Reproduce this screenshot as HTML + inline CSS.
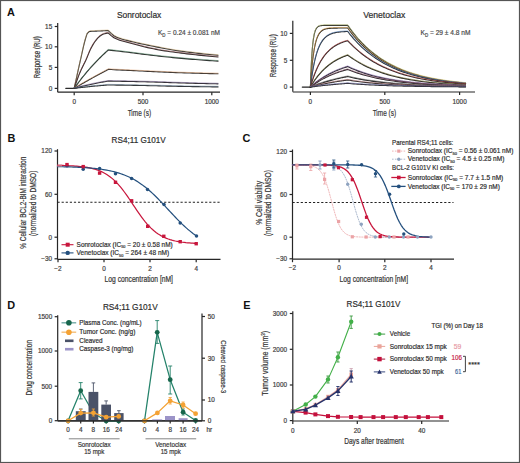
<!DOCTYPE html>
<html><head><meta charset="utf-8"><style>
html,body{margin:0;padding:0;background:#fff;width:520px;height:463px;overflow:hidden}
svg{display:block;font-family:"Liberation Sans", sans-serif}
</style></head><body>
<svg width="520" height="463" viewBox="0 0 520 463">
<rect width="520" height="463" fill="#fff"/>
<rect x="0.5" y="0.5" width="519" height="462" fill="none" stroke="#555" stroke-width="1.2"/>
<text x="7" y="16.2" font-size="10.9" fill="#111" font-weight="bold" >A</text>
<text x="7.6" y="142.3" font-size="10.9" fill="#111" font-weight="bold" >B</text>
<text x="242.4" y="141.9" font-size="10.9" fill="#111" font-weight="bold" >C</text>
<text x="7.2" y="309.3" font-size="10.9" fill="#111" font-weight="bold" >D</text>
<text x="243.2" y="309.2" font-size="10.9" fill="#111" font-weight="bold" >E</text>
<text x="116.9" y="17.5" font-size="9" fill="#2e2e2e" stroke="#2e2e2e" stroke-width="0.2" textLength="44.4" lengthAdjust="spacingAndGlyphs" >Sonrotoclax</text>
<text x="158" y="34.7" font-size="7.4" fill="#4a4a4a" stroke="#4a4a4a" stroke-width="0.2" textLength="62" lengthAdjust="spacingAndGlyphs" >K<tspan font-size="5" dy="2">D</tspan><tspan dy="-2"> = 0.24 ± 0.081 nM</tspan></text>
<line x1="57.7" y1="23" x2="57.7" y2="92.1" stroke="#262626" stroke-width="1.2" />
<line x1="54.7" y1="26.5" x2="57.7" y2="26.5" stroke="#262626" stroke-width="1.2" />
<text x="52.2" y="28.8" font-size="6.4" fill="#424242" stroke="#424242" stroke-width="0.2" text-anchor="end" >15</text>
<line x1="54.7" y1="46.8" x2="57.7" y2="46.8" stroke="#262626" stroke-width="1.2" />
<text x="52.2" y="49.1" font-size="6.4" fill="#424242" stroke="#424242" stroke-width="0.2" text-anchor="end" >10</text>
<line x1="54.7" y1="67.4" x2="57.7" y2="67.4" stroke="#262626" stroke-width="1.2" />
<text x="52.2" y="69.7" font-size="6.4" fill="#424242" stroke="#424242" stroke-width="0.2" text-anchor="end" >5</text>
<line x1="54.7" y1="88.4" x2="57.7" y2="88.4" stroke="#262626" stroke-width="1.2" />
<text x="52.2" y="90.7" font-size="6.4" fill="#424242" stroke="#424242" stroke-width="0.2" text-anchor="end" >0</text>
<line x1="57.5" y1="92.2" x2="220" y2="92.2" stroke="#262626" stroke-width="1.2" />
<line x1="74.2" y1="92.2" x2="74.2" y2="95.2" stroke="#262626" stroke-width="1.2" />
<text x="74.2" y="103.8" font-size="6.4" fill="#424242" stroke="#424242" stroke-width="0.2" text-anchor="middle" >0</text>
<line x1="143" y1="92.2" x2="143" y2="95.2" stroke="#262626" stroke-width="1.2" />
<text x="143" y="103.8" font-size="6.4" fill="#424242" stroke="#424242" stroke-width="0.2" text-anchor="middle" >500</text>
<line x1="211.8" y1="92.2" x2="211.8" y2="95.2" stroke="#262626" stroke-width="1.2" />
<text x="211.8" y="103.8" font-size="6.4" fill="#424242" stroke="#424242" stroke-width="0.2" text-anchor="middle" >1000</text>
<text x="39.6" y="57.2" font-size="9" fill="#353535" stroke="#353535" stroke-width="0.2" text-anchor="middle" textLength="42" lengthAdjust="spacingAndGlyphs" transform="rotate(-90 39.6 57.2)" >Response (RU)</text>
<text x="139.4" y="115.9" font-size="9.4" fill="#353535" stroke="#353535" stroke-width="0.2" text-anchor="middle" textLength="23.5" lengthAdjust="spacingAndGlyphs" >Time (s)</text>
<path d="M65.8 88.4 L74.2 88.4" fill="none" stroke="#2b2b2b" stroke-width="1.15" stroke-linejoin="round" stroke-linecap="round" />
<path d="M74.2 88.4 L75.38 82.92 L76.55 77.51 L77.73 72.19 L78.9 66.93 L80.08 61.73 L81.26 56.5 L82.43 51.11 L83.61 45.92 L84.78 41.25 L85.96 37.06 L87.13 33.62 L88.31 32.29 L89.49 31.57 L90.66 31.38 L91.84 31.29 L93.01 31.23 L94.19 31.18 L95.37 31.13 L96.54 31.08 L97.72 31.03 L98.89 30.99 L100.07 30.94 L101.24 30.89 L102.42 30.83 L103.6 30.78 L104.77 30.72 L105.95 30.66 L107.12 30.6 L108.3 30.54 L111.11 33.42 L113.93 35.77 L116.74 37.2 L119.55 38.28 L122.36 39.16 L125.18 39.92 L127.99 40.62 L130.8 41.35 L133.62 42.06 L136.43 42.71 L139.24 43.34 L142.05 43.95 L144.87 44.55 L147.68 45.14 L150.49 45.72 L153.31 46.28 L156.12 46.84 L158.93 47.39 L161.74 47.95 L164.56 48.51 L167.37 49.06 L170.18 49.55 L172.99 50.01 L175.81 50.44 L178.62 50.85 L181.43 51.25 L184.25 51.62 L187.06 51.99 L189.87 52.34 L192.68 52.67 L195.5 53 L198.31 53.33 L201.12 53.64 L203.94 53.94 L206.75 54.23 L209.56 54.51 L212.37 54.78 L215.19 55.04 L218 55.28" fill="none" stroke="#303030" stroke-width="1.1" stroke-linejoin="round" stroke-linecap="round" />
<path d="M74.2 87.8 L75.38 82.32 L76.55 76.91 L77.73 71.59 L78.9 66.33 L80.08 61.13 L81.26 55.9 L82.43 50.51 L83.61 45.32 L84.78 40.65 L85.96 36.46 L87.13 33.02 L88.31 31.69 L89.49 30.97 L90.66 30.78 L91.84 30.69 L93.01 30.63 L94.19 30.58 L95.37 30.53 L96.54 30.48 L97.72 30.43 L98.89 30.39 L100.07 30.34 L101.24 30.29 L102.42 30.23 L103.6 30.18 L104.77 30.12 L105.95 30.06 L107.12 30 L108.3 29.94 L111.11 32.82 L113.93 35.17 L116.74 36.6 L119.55 37.68 L122.36 38.56 L125.18 39.32 L127.99 40.02 L130.8 40.75 L133.62 41.46 L136.43 42.11 L139.24 42.74 L142.05 43.35 L144.87 43.95 L147.68 44.54 L150.49 45.12 L153.31 45.68 L156.12 46.24 L158.93 46.79 L161.74 47.35 L164.56 47.91 L167.37 48.46 L170.18 48.95 L172.99 49.41 L175.81 49.84 L178.62 50.25 L181.43 50.65 L184.25 51.02 L187.06 51.39 L189.87 51.74 L192.68 52.07 L195.5 52.4 L198.31 52.73 L201.12 53.04 L203.94 53.34 L206.75 53.63 L209.56 53.91 L212.37 54.18 L215.19 54.44 L218 54.68" fill="none" stroke="#c9a56b" stroke-width="0.6" stroke-linejoin="round" stroke-linecap="round" opacity="0.75"/>
<path d="M74.2 88.4 L75.38 84.86 L76.55 81.47 L77.73 78.22 L78.9 75.15 L80.08 72.26 L81.26 69.6 L82.43 67.15 L83.61 64.79 L84.78 62.43 L85.96 59.98 L87.13 57.31 L88.31 54.4 L89.49 51.51 L90.66 48.88 L91.84 46.65 L93.01 44.61 L94.19 42.73 L95.37 41.05 L96.54 39.57 L97.72 38.21 L98.89 37.01 L100.07 36.04 L101.24 35.23 L102.42 34.53 L103.6 34 L104.77 33.66 L105.95 33.36 L107.12 33.15 L108.3 33.06 L111.11 35.62 L113.93 37.73 L116.74 39.09 L119.55 40.15 L122.36 41.03 L125.18 41.8 L127.99 42.52 L130.8 43.28 L133.62 44.04 L136.43 44.79 L139.24 45.52 L142.05 46.24 L144.87 46.93 L147.68 47.59 L150.49 48.22 L153.31 48.83 L156.12 49.4 L158.93 49.94 L161.74 50.43 L164.56 50.87 L167.37 51.28 L170.18 51.67 L172.99 52.05 L175.81 52.43 L178.62 52.8 L181.43 53.15 L184.25 53.5 L187.06 53.83 L189.87 54.15 L192.68 54.47 L195.5 54.78 L198.31 55.08 L201.12 55.38 L203.94 55.67 L206.75 55.95 L209.56 56.23 L212.37 56.49 L215.19 56.75 L218 57" fill="none" stroke="#303030" stroke-width="1.1" stroke-linejoin="round" stroke-linecap="round" />
<path d="M74.2 87.8 L75.38 84.26 L76.55 80.87 L77.73 77.62 L78.9 74.55 L80.08 71.66 L81.26 69 L82.43 66.55 L83.61 64.19 L84.78 61.83 L85.96 59.38 L87.13 56.71 L88.31 53.8 L89.49 50.91 L90.66 48.28 L91.84 46.05 L93.01 44.01 L94.19 42.13 L95.37 40.45 L96.54 38.97 L97.72 37.61 L98.89 36.41 L100.07 35.44 L101.24 34.63 L102.42 33.93 L103.6 33.4 L104.77 33.06 L105.95 32.76 L107.12 32.55 L108.3 32.46 L111.11 35.02 L113.93 37.13 L116.74 38.49 L119.55 39.55 L122.36 40.43 L125.18 41.2 L127.99 41.92 L130.8 42.68 L133.62 43.44 L136.43 44.19 L139.24 44.92 L142.05 45.64 L144.87 46.33 L147.68 46.99 L150.49 47.62 L153.31 48.23 L156.12 48.8 L158.93 49.34 L161.74 49.83 L164.56 50.27 L167.37 50.68 L170.18 51.07 L172.99 51.45 L175.81 51.83 L178.62 52.2 L181.43 52.55 L184.25 52.9 L187.06 53.23 L189.87 53.55 L192.68 53.87 L195.5 54.18 L198.31 54.48 L201.12 54.78 L203.94 55.07 L206.75 55.35 L209.56 55.63 L212.37 55.89 L215.19 56.15 L218 56.4" fill="none" stroke="#8a3c3c" stroke-width="0.6" stroke-linejoin="round" stroke-linecap="round" opacity="0.75"/>
<path d="M74.2 88.4 L75.38 86.77 L76.55 85.15 L77.73 83.56 L78.9 82 L80.08 80.46 L81.26 78.95 L82.43 77.46 L83.61 75.99 L84.78 74.54 L85.96 73.12 L87.13 71.72 L88.31 70.34 L89.49 68.99 L90.66 67.66 L91.84 66.35 L93.01 65.07 L94.19 63.8 L95.37 62.55 L96.54 61.32 L97.72 60.11 L98.89 58.92 L100.07 57.75 L101.24 56.59 L102.42 55.45 L103.6 54.33 L104.77 53.23 L105.95 52.14 L107.12 51.08 L108.3 50.03 L111.11 50.34 L113.93 50.66 L116.74 50.98 L119.55 51.31 L122.36 51.64 L125.18 51.97 L127.99 52.31 L130.8 52.65 L133.62 53 L136.43 53.36 L139.24 53.72 L142.05 54.09 L144.87 54.45 L147.68 54.8 L150.49 55.14 L153.31 55.47 L156.12 55.79 L158.93 56.11 L161.74 56.43 L164.56 56.74 L167.37 57.03 L170.18 57.32 L172.99 57.59 L175.81 57.86 L178.62 58.12 L181.43 58.38 L184.25 58.63 L187.06 58.87 L189.87 59.11 L192.68 59.34 L195.5 59.56 L198.31 59.78 L201.12 59.99 L203.94 60.19 L206.75 60.39 L209.56 60.59 L212.37 60.78 L215.19 60.96 L218 61.14" fill="none" stroke="#303030" stroke-width="1.1" stroke-linejoin="round" stroke-linecap="round" />
<path d="M74.2 87.8 L75.38 86.17 L76.55 84.55 L77.73 82.96 L78.9 81.4 L80.08 79.86 L81.26 78.35 L82.43 76.86 L83.61 75.39 L84.78 73.94 L85.96 72.52 L87.13 71.12 L88.31 69.74 L89.49 68.39 L90.66 67.06 L91.84 65.75 L93.01 64.47 L94.19 63.2 L95.37 61.95 L96.54 60.72 L97.72 59.51 L98.89 58.32 L100.07 57.15 L101.24 55.99 L102.42 54.85 L103.6 53.73 L104.77 52.63 L105.95 51.54 L107.12 50.48 L108.3 49.43 L111.11 49.74 L113.93 50.06 L116.74 50.38 L119.55 50.71 L122.36 51.04 L125.18 51.37 L127.99 51.71 L130.8 52.05 L133.62 52.4 L136.43 52.76 L139.24 53.12 L142.05 53.49 L144.87 53.85 L147.68 54.2 L150.49 54.54 L153.31 54.87 L156.12 55.19 L158.93 55.51 L161.74 55.83 L164.56 56.14 L167.37 56.43 L170.18 56.72 L172.99 56.99 L175.81 57.26 L178.62 57.52 L181.43 57.78 L184.25 58.03 L187.06 58.27 L189.87 58.51 L192.68 58.74 L195.5 58.96 L198.31 59.18 L201.12 59.39 L203.94 59.59 L206.75 59.79 L209.56 59.99 L212.37 60.18 L215.19 60.36 L218 60.54" fill="none" stroke="#3d7a55" stroke-width="0.6" stroke-linejoin="round" stroke-linecap="round" opacity="0.75"/>
<path d="M74.2 88.4 L75.38 87.71 L76.55 87.01 L77.73 86.33 L78.9 85.64 L80.08 84.96 L81.26 84.28 L82.43 83.6 L83.61 82.93 L84.78 82.25 L85.96 81.59 L87.13 80.92 L88.31 80.26 L89.49 79.6 L90.66 78.94 L91.84 78.29 L93.01 77.64 L94.19 76.99 L95.37 76.34 L96.54 75.7 L97.72 75.06 L98.89 74.42 L100.07 73.79 L101.24 73.15 L102.42 72.52 L103.6 71.9 L104.77 71.27 L105.95 70.65 L107.12 70.03 L108.3 69.42 L111.11 69.56 L113.93 69.7 L116.74 69.84 L119.55 69.98 L122.36 70.12 L125.18 70.26 L127.99 70.4 L130.8 70.53 L133.62 70.67 L136.43 70.8 L139.24 70.94 L142.05 71.07 L144.87 71.2 L147.68 71.33 L150.49 71.46 L153.31 71.59 L156.12 71.72 L158.93 71.85 L161.74 71.99 L164.56 72.12 L167.37 72.25 L170.18 72.37 L172.99 72.49 L175.81 72.6 L178.62 72.7 L181.43 72.8 L184.25 72.89 L187.06 72.98 L189.87 73.07 L192.68 73.15 L195.5 73.23 L198.31 73.31 L201.12 73.39 L203.94 73.46 L206.75 73.53 L209.56 73.59 L212.37 73.65 L215.19 73.71 L218 73.76" fill="none" stroke="#303030" stroke-width="1.1" stroke-linejoin="round" stroke-linecap="round" />
<path d="M74.2 87.8 L75.38 87.11 L76.55 86.41 L77.73 85.73 L78.9 85.04 L80.08 84.36 L81.26 83.68 L82.43 83 L83.61 82.33 L84.78 81.65 L85.96 80.99 L87.13 80.32 L88.31 79.66 L89.49 79 L90.66 78.34 L91.84 77.69 L93.01 77.04 L94.19 76.39 L95.37 75.74 L96.54 75.1 L97.72 74.46 L98.89 73.82 L100.07 73.19 L101.24 72.55 L102.42 71.92 L103.6 71.3 L104.77 70.67 L105.95 70.05 L107.12 69.43 L108.3 68.82 L111.11 68.96 L113.93 69.1 L116.74 69.24 L119.55 69.38 L122.36 69.52 L125.18 69.66 L127.99 69.8 L130.8 69.93 L133.62 70.07 L136.43 70.2 L139.24 70.34 L142.05 70.47 L144.87 70.6 L147.68 70.73 L150.49 70.86 L153.31 70.99 L156.12 71.12 L158.93 71.25 L161.74 71.39 L164.56 71.52 L167.37 71.65 L170.18 71.77 L172.99 71.89 L175.81 72 L178.62 72.1 L181.43 72.2 L184.25 72.29 L187.06 72.38 L189.87 72.47 L192.68 72.55 L195.5 72.63 L198.31 72.71 L201.12 72.79 L203.94 72.86 L206.75 72.93 L209.56 72.99 L212.37 73.05 L215.19 73.11 L218 73.16" fill="none" stroke="#d9925a" stroke-width="0.6" stroke-linejoin="round" stroke-linecap="round" opacity="0.75"/>
<path d="M74.2 88.4 L75.38 88.09 L76.55 87.78 L77.73 87.47 L78.9 87.17 L80.08 86.87 L81.26 86.58 L82.43 86.29 L83.61 86.01 L84.78 85.73 L85.96 85.46 L87.13 85.19 L88.31 84.93 L89.49 84.67 L90.66 84.42 L91.84 84.18 L93.01 83.93 L94.19 83.69 L95.37 83.46 L96.54 83.22 L97.72 83 L98.89 82.77 L100.07 82.55 L101.24 82.33 L102.42 82.12 L103.6 81.91 L104.77 81.71 L105.95 81.51 L107.12 81.32 L108.3 81.13 L111.11 81.16 L113.93 81.2 L116.74 81.24 L119.55 81.29 L122.36 81.33 L125.18 81.38 L127.99 81.44 L130.8 81.49 L133.62 81.55 L136.43 81.62 L139.24 81.68 L142.05 81.74 L144.87 81.81 L147.68 81.88 L150.49 81.95 L153.31 82.03 L156.12 82.12 L158.93 82.21 L161.74 82.31 L164.56 82.41 L167.37 82.52 L170.18 82.62 L172.99 82.72 L175.81 82.82 L178.62 82.91 L181.43 82.99 L184.25 83.07 L187.06 83.14 L189.87 83.22 L192.68 83.29 L195.5 83.36 L198.31 83.43 L201.12 83.5 L203.94 83.56 L206.75 83.63 L209.56 83.69 L212.37 83.75 L215.19 83.8 L218 83.86" fill="none" stroke="#303030" stroke-width="1.1" stroke-linejoin="round" stroke-linecap="round" />
<path d="M74.2 87.8 L75.38 87.49 L76.55 87.18 L77.73 86.87 L78.9 86.57 L80.08 86.27 L81.26 85.98 L82.43 85.69 L83.61 85.41 L84.78 85.13 L85.96 84.86 L87.13 84.59 L88.31 84.33 L89.49 84.07 L90.66 83.82 L91.84 83.58 L93.01 83.33 L94.19 83.09 L95.37 82.86 L96.54 82.62 L97.72 82.4 L98.89 82.17 L100.07 81.95 L101.24 81.73 L102.42 81.52 L103.6 81.31 L104.77 81.11 L105.95 80.91 L107.12 80.72 L108.3 80.53 L111.11 80.56 L113.93 80.6 L116.74 80.64 L119.55 80.69 L122.36 80.73 L125.18 80.78 L127.99 80.84 L130.8 80.89 L133.62 80.95 L136.43 81.02 L139.24 81.08 L142.05 81.14 L144.87 81.21 L147.68 81.28 L150.49 81.35 L153.31 81.43 L156.12 81.52 L158.93 81.61 L161.74 81.71 L164.56 81.81 L167.37 81.92 L170.18 82.02 L172.99 82.12 L175.81 82.22 L178.62 82.31 L181.43 82.39 L184.25 82.47 L187.06 82.54 L189.87 82.62 L192.68 82.69 L195.5 82.76 L198.31 82.83 L201.12 82.9 L203.94 82.96 L206.75 83.03 L209.56 83.09 L212.37 83.15 L215.19 83.2 L218 83.26" fill="none" stroke="#6b4f8a" stroke-width="0.6" stroke-linejoin="round" stroke-linecap="round" opacity="0.75"/>
<path d="M74.2 88.4 L75.38 88.25 L76.55 88.1 L77.73 87.96 L78.9 87.82 L80.08 87.67 L81.26 87.54 L82.43 87.4 L83.61 87.27 L84.78 87.13 L85.96 87 L87.13 86.88 L88.31 86.75 L89.49 86.63 L90.66 86.52 L91.84 86.4 L93.01 86.29 L94.19 86.17 L95.37 86.06 L96.54 85.95 L97.72 85.84 L98.89 85.74 L100.07 85.63 L101.24 85.53 L102.42 85.43 L103.6 85.33 L104.77 85.24 L105.95 85.15 L107.12 85.05 L108.3 84.97 L111.11 85 L113.93 85.04 L116.74 85.09 L119.55 85.13 L122.36 85.17 L125.18 85.22 L127.99 85.26 L130.8 85.31 L133.62 85.36 L136.43 85.41 L139.24 85.47 L142.05 85.52 L144.87 85.57 L147.68 85.63 L150.49 85.68 L153.31 85.74 L156.12 85.81 L158.93 85.88 L161.74 85.95 L164.56 86.03 L167.37 86.1 L170.18 86.17 L172.99 86.24 L175.81 86.3 L178.62 86.36 L181.43 86.4 L184.25 86.45 L187.06 86.5 L189.87 86.54 L192.68 86.59 L195.5 86.63 L198.31 86.67 L201.12 86.71 L203.94 86.74 L206.75 86.78 L209.56 86.81 L212.37 86.84 L215.19 86.86 L218 86.89" fill="none" stroke="#303030" stroke-width="1.1" stroke-linejoin="round" stroke-linecap="round" />
<path d="M74.2 87.8 L75.38 87.65 L76.55 87.5 L77.73 87.36 L78.9 87.22 L80.08 87.07 L81.26 86.94 L82.43 86.8 L83.61 86.67 L84.78 86.53 L85.96 86.4 L87.13 86.28 L88.31 86.15 L89.49 86.03 L90.66 85.92 L91.84 85.8 L93.01 85.69 L94.19 85.57 L95.37 85.46 L96.54 85.35 L97.72 85.24 L98.89 85.14 L100.07 85.03 L101.24 84.93 L102.42 84.83 L103.6 84.73 L104.77 84.64 L105.95 84.55 L107.12 84.45 L108.3 84.37 L111.11 84.4 L113.93 84.44 L116.74 84.49 L119.55 84.53 L122.36 84.57 L125.18 84.62 L127.99 84.66 L130.8 84.71 L133.62 84.76 L136.43 84.81 L139.24 84.87 L142.05 84.92 L144.87 84.97 L147.68 85.03 L150.49 85.08 L153.31 85.14 L156.12 85.21 L158.93 85.28 L161.74 85.35 L164.56 85.43 L167.37 85.5 L170.18 85.57 L172.99 85.64 L175.81 85.7 L178.62 85.76 L181.43 85.8 L184.25 85.85 L187.06 85.9 L189.87 85.94 L192.68 85.99 L195.5 86.03 L198.31 86.07 L201.12 86.11 L203.94 86.14 L206.75 86.18 L209.56 86.21 L212.37 86.24 L215.19 86.26 L218 86.29" fill="none" stroke="#5a7896" stroke-width="0.6" stroke-linejoin="round" stroke-linecap="round" opacity="0.75"/>
<text x="363.2" y="17.5" font-size="9" fill="#2e2e2e" stroke="#2e2e2e" stroke-width="0.2" textLength="42.2" lengthAdjust="spacingAndGlyphs" >Venetoclax</text>
<text x="420.5" y="34.7" font-size="7.4" fill="#4a4a4a" stroke="#4a4a4a" stroke-width="0.2" textLength="50" lengthAdjust="spacingAndGlyphs" >K<tspan font-size="5" dy="2">D</tspan><tspan dy="-2"> = 29 ± 4.8 nM</tspan></text>
<line x1="292.8" y1="20.7" x2="292.8" y2="91.8" stroke="#262626" stroke-width="1.2" />
<line x1="289.8" y1="33.4" x2="292.8" y2="33.4" stroke="#262626" stroke-width="1.2" />
<text x="287.3" y="35.7" font-size="6.4" fill="#424242" stroke="#424242" stroke-width="0.2" text-anchor="end" >10</text>
<line x1="289.8" y1="60.3" x2="292.8" y2="60.3" stroke="#262626" stroke-width="1.2" />
<text x="287.3" y="62.6" font-size="6.4" fill="#424242" stroke="#424242" stroke-width="0.2" text-anchor="end" >5</text>
<line x1="289.8" y1="87.1" x2="292.8" y2="87.1" stroke="#262626" stroke-width="1.2" />
<text x="287.3" y="89.4" font-size="6.4" fill="#424242" stroke="#424242" stroke-width="0.2" text-anchor="end" >0</text>
<line x1="292.8" y1="92" x2="475" y2="92" stroke="#262626" stroke-width="1.2" />
<line x1="310.4" y1="92" x2="310.4" y2="95" stroke="#262626" stroke-width="1.2" />
<text x="310.4" y="103.8" font-size="6.4" fill="#424242" stroke="#424242" stroke-width="0.2" text-anchor="middle" >0</text>
<line x1="384.8" y1="92" x2="384.8" y2="95" stroke="#262626" stroke-width="1.2" />
<text x="384.8" y="103.8" font-size="6.4" fill="#424242" stroke="#424242" stroke-width="0.2" text-anchor="middle" >500</text>
<line x1="459.6" y1="92" x2="459.6" y2="95" stroke="#262626" stroke-width="1.2" />
<text x="459.6" y="103.8" font-size="6.4" fill="#424242" stroke="#424242" stroke-width="0.2" text-anchor="middle" >1000</text>
<text x="275.6" y="55.7" font-size="9" fill="#353535" stroke="#353535" stroke-width="0.2" text-anchor="middle" textLength="43" lengthAdjust="spacingAndGlyphs" transform="rotate(-90 275.6 55.7)" >Response (RU)</text>
<text x="384.4" y="115.9" font-size="9.4" fill="#353535" stroke="#353535" stroke-width="0.2" text-anchor="middle" textLength="23.5" lengthAdjust="spacingAndGlyphs" >Time (s)</text>
<path d="M302.3 87.1 L310.4 87.1" fill="none" stroke="#222" stroke-width="1.2" stroke-linejoin="round" stroke-linecap="round" />
<path d="M310.4 87.1 L310.56 82.41 L310.71 78.08 L310.87 74.08 L311.03 70.38 L311.19 66.96 L311.34 63.8 L311.5 60.88 L311.66 58.18 L311.81 55.69 L311.97 53.39 L312.13 51.26 L312.28 49.29 L312.44 47.47 L312.6 45.79 L312.76 44.24 L312.91 42.81 L313.07 41.48 L313.23 40.26 L313.38 39.12 L314.26 34.2 L315.14 31.03 L316.02 29 L316.9 27.69 L317.78 26.85 L318.66 26.31 L319.54 25.97 L320.42 25.75 L321.3 25.6 L322.18 25.51 L323.06 25.45 L323.94 25.41 L324.82 25.39 L325.7 25.37 L326.58 25.36 L327.46 25.36 L328.34 25.35 L329.22 25.35 L330.1 25.35 L330.98 25.35 L331.86 25.35 L332.74 25.35 L333.62 25.35 L334.5 25.35 L335.38 25.35 L336.26 25.35 L337.14 25.35 L338.02 25.35 L338.9 25.35 L339.78 25.35 L340.66 25.35 L341.54 25.35 L342.42 25.35 L343.3 25.35 L344.18 25.35 L345.06 25.35 L345.94 25.35 L346.82 25.35 L347.7 25.35 L349.7 28.17 L351.7 30.87 L353.69 33.44 L355.69 35.9 L357.69 38.25 L359.69 40.48 L361.68 42.62 L363.68 44.65 L365.68 46.6 L367.68 48.45 L369.68 50.22 L371.67 51.91 L373.67 53.52 L375.67 55.06 L377.67 56.52 L379.66 57.92 L381.66 59.26 L383.66 60.53 L385.66 61.75 L387.66 62.91 L389.65 64.02 L391.65 65.08 L393.65 66.08 L395.65 67.05 L397.64 67.96 L399.64 68.84 L401.64 69.68 L403.64 70.47 L405.64 71.24 L407.63 71.96 L409.63 72.65 L411.63 73.32 L413.63 73.95 L415.62 74.55 L417.62 75.12 L419.62 75.67 L421.62 76.2 L423.61 76.69 L425.61 77.17 L427.61 77.63 L429.61 78.06 L431.61 78.47 L433.6 78.87 L435.6 79.25 L437.6 79.6 L439.6 79.95 L441.59 80.28 L443.59 80.59 L445.59 80.89 L447.59 81.17 L449.59 81.44 L451.58 81.7 L453.58 81.95 L455.58 82.18 L457.58 82.41 L459.57 82.62 L461.57 82.83 L463.57 83.02 L465.57 83.21" fill="none" stroke="#2a2a2a" stroke-width="1.1" stroke-linejoin="round" stroke-linecap="round" />
<path d="M310.4 86.5 L310.56 81.81 L310.71 77.48 L310.87 73.48 L311.03 69.78 L311.19 66.36 L311.34 63.2 L311.5 60.28 L311.66 57.58 L311.81 55.09 L311.97 52.79 L312.13 50.66 L312.28 48.69 L312.44 46.87 L312.6 45.19 L312.76 43.64 L312.91 42.21 L313.07 40.88 L313.23 39.66 L313.38 38.52 L314.26 33.6 L315.14 30.43 L316.02 28.4 L316.9 27.09 L317.78 26.25 L318.66 25.71 L319.54 25.37 L320.42 25.15 L321.3 25 L322.18 24.91 L323.06 24.85 L323.94 24.81 L324.82 24.79 L325.7 24.77 L326.58 24.76 L327.46 24.76 L328.34 24.75 L329.22 24.75 L330.1 24.75 L330.98 24.75 L331.86 24.75 L332.74 24.75 L333.62 24.75 L334.5 24.75 L335.38 24.75 L336.26 24.75 L337.14 24.75 L338.02 24.75 L338.9 24.75 L339.78 24.75 L340.66 24.75 L341.54 24.75 L342.42 24.75 L343.3 24.75 L344.18 24.75 L345.06 24.75 L345.94 24.75 L346.82 24.75 L347.7 24.75 L349.7 27.57 L351.7 30.27 L353.69 32.84 L355.69 35.3 L357.69 37.65 L359.69 39.88 L361.68 42.02 L363.68 44.05 L365.68 46 L367.68 47.85 L369.68 49.62 L371.67 51.31 L373.67 52.92 L375.67 54.46 L377.67 55.92 L379.66 57.32 L381.66 58.66 L383.66 59.93 L385.66 61.15 L387.66 62.31 L389.65 63.42 L391.65 64.48 L393.65 65.48 L395.65 66.45 L397.64 67.36 L399.64 68.24 L401.64 69.08 L403.64 69.87 L405.64 70.64 L407.63 71.36 L409.63 72.05 L411.63 72.72 L413.63 73.35 L415.62 73.95 L417.62 74.52 L419.62 75.07 L421.62 75.6 L423.61 76.09 L425.61 76.57 L427.61 77.03 L429.61 77.46 L431.61 77.87 L433.6 78.27 L435.6 78.65 L437.6 79 L439.6 79.35 L441.59 79.68 L443.59 79.99 L445.59 80.29 L447.59 80.57 L449.59 80.84 L451.58 81.1 L453.58 81.35 L455.58 81.58 L457.58 81.81 L459.57 82.02 L461.57 82.23 L463.57 82.42 L465.57 82.61" fill="none" stroke="#c8cf7a" stroke-width="0.7" stroke-linejoin="round" stroke-linecap="round" opacity="0.8"/>
<path d="M310.4 87.1 L310.56 84.66 L310.71 82.33 L310.87 80.09 L311.03 77.94 L311.19 75.89 L311.34 73.91 L311.5 72.02 L311.66 70.21 L311.81 68.47 L311.97 66.8 L312.13 65.2 L312.28 63.67 L312.44 62.2 L312.6 60.79 L312.76 59.44 L312.91 58.15 L313.07 56.9 L313.23 55.71 L313.38 54.57 L314.26 48.99 L315.14 44.59 L316.02 41.11 L316.9 38.36 L317.78 36.19 L318.66 34.48 L319.54 33.12 L320.42 32.05 L321.3 31.21 L322.18 30.54 L323.06 30.01 L323.94 29.6 L324.82 29.27 L325.7 29.01 L326.58 28.8 L327.46 28.64 L328.34 28.51 L329.22 28.41 L330.1 28.33 L330.98 28.27 L331.86 28.22 L332.74 28.18 L333.62 28.15 L334.5 28.12 L335.38 28.1 L336.26 28.09 L337.14 28.08 L338.02 28.07 L338.9 28.06 L339.78 28.05 L340.66 28.05 L341.54 28.04 L342.42 28.04 L343.3 28.04 L344.18 28.04 L345.06 28.04 L345.94 28.03 L346.82 28.03 L347.7 28.03 L349.7 30.74 L351.7 33.32 L353.69 35.78 L355.69 38.13 L357.69 40.37 L359.69 42.51 L361.68 44.55 L363.68 46.5 L365.68 48.36 L367.68 50.13 L369.68 51.83 L371.67 53.44 L373.67 54.98 L375.67 56.45 L377.67 57.85 L379.66 59.19 L381.66 60.47 L383.66 61.69 L385.66 62.85 L387.66 63.96 L389.65 65.02 L391.65 66.03 L393.65 67 L395.65 67.92 L397.64 68.8 L399.64 69.63 L401.64 70.43 L403.64 71.2 L405.64 71.93 L407.63 72.62 L409.63 73.28 L411.63 73.92 L413.63 74.52 L415.62 75.1 L417.62 75.65 L419.62 76.17 L421.62 76.67 L423.61 77.15 L425.61 77.6 L427.61 78.04 L429.61 78.45 L431.61 78.85 L433.6 79.23 L435.6 79.59 L437.6 79.93 L439.6 80.26 L441.59 80.57 L443.59 80.87 L445.59 81.16 L447.59 81.43 L449.59 81.69 L451.58 81.94 L453.58 82.17 L455.58 82.4 L457.58 82.61 L459.57 82.82 L461.57 83.01 L463.57 83.2 L465.57 83.38" fill="none" stroke="#2a2a2a" stroke-width="1.1" stroke-linejoin="round" stroke-linecap="round" />
<path d="M310.4 86.5 L310.56 84.06 L310.71 81.73 L310.87 79.49 L311.03 77.34 L311.19 75.29 L311.34 73.31 L311.5 71.42 L311.66 69.61 L311.81 67.87 L311.97 66.2 L312.13 64.6 L312.28 63.07 L312.44 61.6 L312.6 60.19 L312.76 58.84 L312.91 57.55 L313.07 56.3 L313.23 55.11 L313.38 53.97 L314.26 48.39 L315.14 43.99 L316.02 40.51 L316.9 37.76 L317.78 35.59 L318.66 33.88 L319.54 32.52 L320.42 31.45 L321.3 30.61 L322.18 29.94 L323.06 29.41 L323.94 29 L324.82 28.67 L325.7 28.41 L326.58 28.2 L327.46 28.04 L328.34 27.91 L329.22 27.81 L330.1 27.73 L330.98 27.67 L331.86 27.62 L332.74 27.58 L333.62 27.55 L334.5 27.52 L335.38 27.5 L336.26 27.49 L337.14 27.48 L338.02 27.47 L338.9 27.46 L339.78 27.45 L340.66 27.45 L341.54 27.44 L342.42 27.44 L343.3 27.44 L344.18 27.44 L345.06 27.44 L345.94 27.43 L346.82 27.43 L347.7 27.43 L349.7 30.14 L351.7 32.72 L353.69 35.18 L355.69 37.53 L357.69 39.77 L359.69 41.91 L361.68 43.95 L363.68 45.9 L365.68 47.76 L367.68 49.53 L369.68 51.23 L371.67 52.84 L373.67 54.38 L375.67 55.85 L377.67 57.25 L379.66 58.59 L381.66 59.87 L383.66 61.09 L385.66 62.25 L387.66 63.36 L389.65 64.42 L391.65 65.43 L393.65 66.4 L395.65 67.32 L397.64 68.2 L399.64 69.03 L401.64 69.83 L403.64 70.6 L405.64 71.33 L407.63 72.02 L409.63 72.68 L411.63 73.32 L413.63 73.92 L415.62 74.5 L417.62 75.05 L419.62 75.57 L421.62 76.07 L423.61 76.55 L425.61 77 L427.61 77.44 L429.61 77.85 L431.61 78.25 L433.6 78.63 L435.6 78.99 L437.6 79.33 L439.6 79.66 L441.59 79.97 L443.59 80.27 L445.59 80.56 L447.59 80.83 L449.59 81.09 L451.58 81.34 L453.58 81.57 L455.58 81.8 L457.58 82.01 L459.57 82.22 L461.57 82.41 L463.57 82.6 L465.57 82.78" fill="none" stroke="#e0a040" stroke-width="0.7" stroke-linejoin="round" stroke-linecap="round" opacity="0.8"/>
<path d="M310.4 87.1 L310.56 85.82 L310.71 84.57 L310.87 83.35 L311.03 82.16 L311.19 80.99 L311.34 79.86 L311.5 78.74 L311.66 77.66 L311.81 76.59 L311.97 75.56 L312.13 74.54 L312.28 73.55 L312.44 72.58 L312.6 71.64 L312.76 70.71 L312.91 69.81 L313.07 68.93 L313.23 68.06 L313.38 67.22 L314.26 62.84 L315.14 59 L316.02 55.62 L316.9 52.66 L317.78 50.05 L318.66 47.77 L319.54 45.76 L320.42 43.99 L321.3 42.44 L322.18 41.08 L323.06 39.88 L323.94 38.83 L324.82 37.91 L325.7 37.1 L326.58 36.39 L327.46 35.76 L328.34 35.21 L329.22 34.73 L330.1 34.31 L330.98 33.94 L331.86 33.61 L332.74 33.32 L333.62 33.07 L334.5 32.85 L335.38 32.66 L336.26 32.48 L337.14 32.33 L338.02 32.2 L338.9 32.09 L339.78 31.99 L340.66 31.9 L341.54 31.82 L342.42 31.75 L343.3 31.69 L344.18 31.64 L345.06 31.59 L345.94 31.55 L346.82 31.51 L347.7 31.48 L349.7 34.03 L351.7 36.46 L353.69 38.78 L355.69 40.99 L357.69 43.1 L359.69 45.11 L361.68 47.04 L363.68 48.87 L365.68 50.62 L367.68 52.29 L369.68 53.88 L371.67 55.4 L373.67 56.86 L375.67 58.24 L377.67 59.56 L379.66 60.82 L381.66 62.03 L383.66 63.17 L385.66 64.27 L387.66 65.31 L389.65 66.31 L391.65 67.26 L393.65 68.17 L395.65 69.04 L397.64 69.87 L399.64 70.65 L401.64 71.41 L403.64 72.13 L405.64 72.81 L407.63 73.47 L409.63 74.09 L411.63 74.69 L413.63 75.25 L415.62 75.8 L417.62 76.31 L419.62 76.81 L421.62 77.28 L423.61 77.73 L425.61 78.16 L427.61 78.57 L429.61 78.96 L431.61 79.33 L433.6 79.69 L435.6 80.03 L437.6 80.35 L439.6 80.66 L441.59 80.95 L443.59 81.23 L445.59 81.5 L447.59 81.76 L449.59 82 L451.58 82.24 L453.58 82.46 L455.58 82.67 L457.58 82.88 L459.57 83.07 L461.57 83.25 L463.57 83.43 L465.57 83.6" fill="none" stroke="#2a2a2a" stroke-width="1.1" stroke-linejoin="round" stroke-linecap="round" />
<path d="M310.4 86.5 L310.56 85.22 L310.71 83.97 L310.87 82.75 L311.03 81.56 L311.19 80.39 L311.34 79.26 L311.5 78.14 L311.66 77.06 L311.81 75.99 L311.97 74.96 L312.13 73.94 L312.28 72.95 L312.44 71.98 L312.6 71.04 L312.76 70.11 L312.91 69.21 L313.07 68.33 L313.23 67.46 L313.38 66.62 L314.26 62.24 L315.14 58.4 L316.02 55.02 L316.9 52.06 L317.78 49.45 L318.66 47.17 L319.54 45.16 L320.42 43.39 L321.3 41.84 L322.18 40.48 L323.06 39.28 L323.94 38.23 L324.82 37.31 L325.7 36.5 L326.58 35.79 L327.46 35.16 L328.34 34.61 L329.22 34.13 L330.1 33.71 L330.98 33.34 L331.86 33.01 L332.74 32.72 L333.62 32.47 L334.5 32.25 L335.38 32.06 L336.26 31.88 L337.14 31.73 L338.02 31.6 L338.9 31.49 L339.78 31.39 L340.66 31.3 L341.54 31.22 L342.42 31.15 L343.3 31.09 L344.18 31.04 L345.06 30.99 L345.94 30.95 L346.82 30.91 L347.7 30.88 L349.7 33.43 L351.7 35.86 L353.69 38.18 L355.69 40.39 L357.69 42.5 L359.69 44.51 L361.68 46.44 L363.68 48.27 L365.68 50.02 L367.68 51.69 L369.68 53.28 L371.67 54.8 L373.67 56.26 L375.67 57.64 L377.67 58.96 L379.66 60.22 L381.66 61.43 L383.66 62.57 L385.66 63.67 L387.66 64.71 L389.65 65.71 L391.65 66.66 L393.65 67.57 L395.65 68.44 L397.64 69.27 L399.64 70.05 L401.64 70.81 L403.64 71.53 L405.64 72.21 L407.63 72.87 L409.63 73.49 L411.63 74.09 L413.63 74.65 L415.62 75.2 L417.62 75.71 L419.62 76.21 L421.62 76.68 L423.61 77.13 L425.61 77.56 L427.61 77.97 L429.61 78.36 L431.61 78.73 L433.6 79.09 L435.6 79.43 L437.6 79.75 L439.6 80.06 L441.59 80.35 L443.59 80.63 L445.59 80.9 L447.59 81.16 L449.59 81.4 L451.58 81.64 L453.58 81.86 L455.58 82.07 L457.58 82.28 L459.57 82.47 L461.57 82.65 L463.57 82.83 L465.57 83" fill="none" stroke="#4f7fbf" stroke-width="0.7" stroke-linejoin="round" stroke-linecap="round" opacity="0.8"/>
<path d="M310.4 87.1 L310.56 86.55 L310.71 86.01 L310.87 85.47 L311.03 84.94 L311.19 84.41 L311.34 83.9 L311.5 83.38 L311.66 82.87 L311.81 82.37 L311.97 81.87 L312.13 81.38 L312.28 80.9 L312.44 80.42 L312.6 79.94 L312.76 79.47 L312.91 79.01 L313.07 78.55 L313.23 78.09 L313.38 77.64 L314.26 75.21 L315.14 72.92 L316.02 70.78 L316.9 68.76 L317.78 66.86 L318.66 65.08 L319.54 63.4 L320.42 61.83 L321.3 60.34 L322.18 58.95 L323.06 57.64 L323.94 56.41 L324.82 55.26 L325.7 54.17 L326.58 53.15 L327.46 52.19 L328.34 51.29 L329.22 50.44 L330.1 49.64 L330.98 48.89 L331.86 48.19 L332.74 47.53 L333.62 46.9 L334.5 46.32 L335.38 45.77 L336.26 45.25 L337.14 44.76 L338.02 44.31 L338.9 43.88 L339.78 43.48 L340.66 43.1 L341.54 42.74 L342.42 42.4 L343.3 42.09 L344.18 41.79 L345.06 41.52 L345.94 41.25 L346.82 41.01 L347.7 40.78 L349.7 42.9 L351.7 44.92 L353.69 46.85 L355.69 48.7 L357.69 50.45 L359.69 52.13 L361.68 53.73 L363.68 55.26 L365.68 56.72 L367.68 58.11 L369.68 59.44 L371.67 60.7 L373.67 61.91 L375.67 63.06 L377.67 64.16 L379.66 65.21 L381.66 66.22 L383.66 67.17 L385.66 68.09 L387.66 68.96 L389.65 69.79 L391.65 70.58 L393.65 71.34 L395.65 72.06 L397.64 72.75 L399.64 73.4 L401.64 74.03 L403.64 74.63 L405.64 75.2 L407.63 75.74 L409.63 76.26 L411.63 76.76 L413.63 77.23 L415.62 77.69 L417.62 78.12 L419.62 78.53 L421.62 78.92 L423.61 79.29 L425.61 79.65 L427.61 79.99 L429.61 80.32 L431.61 80.63 L433.6 80.93 L435.6 81.21 L437.6 81.48 L439.6 81.74 L441.59 81.98 L443.59 82.22 L445.59 82.44 L447.59 82.65 L449.59 82.86 L451.58 83.05 L453.58 83.24 L455.58 83.41 L457.58 83.58 L459.57 83.74 L461.57 83.9 L463.57 84.04 L465.57 84.18" fill="none" stroke="#2a2a2a" stroke-width="1.1" stroke-linejoin="round" stroke-linecap="round" />
<path d="M310.4 86.5 L310.56 85.95 L310.71 85.41 L310.87 84.87 L311.03 84.34 L311.19 83.81 L311.34 83.3 L311.5 82.78 L311.66 82.27 L311.81 81.77 L311.97 81.27 L312.13 80.78 L312.28 80.3 L312.44 79.82 L312.6 79.34 L312.76 78.87 L312.91 78.41 L313.07 77.95 L313.23 77.49 L313.38 77.04 L314.26 74.61 L315.14 72.32 L316.02 70.18 L316.9 68.16 L317.78 66.26 L318.66 64.48 L319.54 62.8 L320.42 61.23 L321.3 59.74 L322.18 58.35 L323.06 57.04 L323.94 55.81 L324.82 54.66 L325.7 53.57 L326.58 52.55 L327.46 51.59 L328.34 50.69 L329.22 49.84 L330.1 49.04 L330.98 48.29 L331.86 47.59 L332.74 46.93 L333.62 46.3 L334.5 45.72 L335.38 45.17 L336.26 44.65 L337.14 44.16 L338.02 43.71 L338.9 43.28 L339.78 42.88 L340.66 42.5 L341.54 42.14 L342.42 41.8 L343.3 41.49 L344.18 41.19 L345.06 40.92 L345.94 40.65 L346.82 40.41 L347.7 40.18 L349.7 42.3 L351.7 44.32 L353.69 46.25 L355.69 48.1 L357.69 49.85 L359.69 51.53 L361.68 53.13 L363.68 54.66 L365.68 56.12 L367.68 57.51 L369.68 58.84 L371.67 60.1 L373.67 61.31 L375.67 62.46 L377.67 63.56 L379.66 64.61 L381.66 65.62 L383.66 66.57 L385.66 67.49 L387.66 68.36 L389.65 69.19 L391.65 69.98 L393.65 70.74 L395.65 71.46 L397.64 72.15 L399.64 72.8 L401.64 73.43 L403.64 74.03 L405.64 74.6 L407.63 75.14 L409.63 75.66 L411.63 76.16 L413.63 76.63 L415.62 77.09 L417.62 77.52 L419.62 77.93 L421.62 78.32 L423.61 78.69 L425.61 79.05 L427.61 79.39 L429.61 79.72 L431.61 80.03 L433.6 80.33 L435.6 80.61 L437.6 80.88 L439.6 81.14 L441.59 81.38 L443.59 81.62 L445.59 81.84 L447.59 82.05 L449.59 82.26 L451.58 82.45 L453.58 82.64 L455.58 82.81 L457.58 82.98 L459.57 83.14 L461.57 83.3 L463.57 83.44 L465.57 83.58" fill="none" stroke="#b23a3a" stroke-width="0.7" stroke-linejoin="round" stroke-linecap="round" opacity="0.8"/>
<path d="M310.4 87.1 L310.56 86.83 L310.71 86.56 L310.87 86.29 L311.03 86.03 L311.19 85.76 L311.34 85.5 L311.5 85.24 L311.66 84.98 L311.81 84.73 L311.97 84.47 L312.13 84.22 L312.28 83.97 L312.44 83.72 L312.6 83.47 L312.76 83.22 L312.91 82.98 L313.07 82.74 L313.23 82.5 L313.38 82.26 L314.26 80.94 L315.14 79.68 L316.02 78.47 L316.9 77.3 L317.78 76.17 L318.66 75.09 L319.54 74.04 L320.42 73.04 L321.3 72.07 L322.18 71.15 L323.06 70.25 L323.94 69.39 L324.82 68.56 L325.7 67.76 L326.58 67 L327.46 66.26 L328.34 65.55 L329.22 64.86 L330.1 64.21 L330.98 63.57 L331.86 62.96 L332.74 62.38 L333.62 61.81 L334.5 61.27 L335.38 60.74 L336.26 60.24 L337.14 59.76 L338.02 59.29 L338.9 58.84 L339.78 58.41 L340.66 58 L341.54 57.6 L342.42 57.21 L343.3 56.84 L344.18 56.48 L345.06 56.14 L345.94 55.81 L346.82 55.49 L347.7 55.19 L349.7 56.65 L351.7 58.04 L353.69 59.37 L355.69 60.64 L357.69 61.85 L359.69 63.01 L361.68 64.11 L363.68 65.16 L365.68 66.17 L367.68 67.13 L369.68 68.04 L371.67 68.91 L373.67 69.75 L375.67 70.54 L377.67 71.3 L379.66 72.02 L381.66 72.71 L383.66 73.37 L385.66 74 L387.66 74.6 L389.65 75.17 L391.65 75.72 L393.65 76.24 L395.65 76.74 L397.64 77.21 L399.64 77.66 L401.64 78.1 L403.64 78.51 L405.64 78.9 L407.63 79.28 L409.63 79.64 L411.63 79.98 L413.63 80.3 L415.62 80.61 L417.62 80.91 L419.62 81.19 L421.62 81.46 L423.61 81.72 L425.61 81.97 L427.61 82.2 L429.61 82.43 L431.61 82.64 L433.6 82.85 L435.6 83.04 L437.6 83.23 L439.6 83.4 L441.59 83.57 L443.59 83.73 L445.59 83.89 L447.59 84.04 L449.59 84.18 L451.58 84.31 L453.58 84.44 L455.58 84.56 L457.58 84.68 L459.57 84.79 L461.57 84.89 L463.57 84.99 L465.57 85.09" fill="none" stroke="#2a2a2a" stroke-width="1.1" stroke-linejoin="round" stroke-linecap="round" />
<path d="M310.4 86.5 L310.56 86.23 L310.71 85.96 L310.87 85.69 L311.03 85.43 L311.19 85.16 L311.34 84.9 L311.5 84.64 L311.66 84.38 L311.81 84.13 L311.97 83.87 L312.13 83.62 L312.28 83.37 L312.44 83.12 L312.6 82.87 L312.76 82.62 L312.91 82.38 L313.07 82.14 L313.23 81.9 L313.38 81.66 L314.26 80.34 L315.14 79.08 L316.02 77.87 L316.9 76.7 L317.78 75.57 L318.66 74.49 L319.54 73.44 L320.42 72.44 L321.3 71.47 L322.18 70.55 L323.06 69.65 L323.94 68.79 L324.82 67.96 L325.7 67.16 L326.58 66.4 L327.46 65.66 L328.34 64.95 L329.22 64.26 L330.1 63.61 L330.98 62.97 L331.86 62.36 L332.74 61.78 L333.62 61.21 L334.5 60.67 L335.38 60.14 L336.26 59.64 L337.14 59.16 L338.02 58.69 L338.9 58.24 L339.78 57.81 L340.66 57.4 L341.54 57 L342.42 56.61 L343.3 56.24 L344.18 55.88 L345.06 55.54 L345.94 55.21 L346.82 54.89 L347.7 54.59 L349.7 56.05 L351.7 57.44 L353.69 58.77 L355.69 60.04 L357.69 61.25 L359.69 62.41 L361.68 63.51 L363.68 64.56 L365.68 65.57 L367.68 66.53 L369.68 67.44 L371.67 68.31 L373.67 69.15 L375.67 69.94 L377.67 70.7 L379.66 71.42 L381.66 72.11 L383.66 72.77 L385.66 73.4 L387.66 74 L389.65 74.57 L391.65 75.12 L393.65 75.64 L395.65 76.14 L397.64 76.61 L399.64 77.06 L401.64 77.5 L403.64 77.91 L405.64 78.3 L407.63 78.68 L409.63 79.04 L411.63 79.38 L413.63 79.7 L415.62 80.01 L417.62 80.31 L419.62 80.59 L421.62 80.86 L423.61 81.12 L425.61 81.37 L427.61 81.6 L429.61 81.83 L431.61 82.04 L433.6 82.25 L435.6 82.44 L437.6 82.63 L439.6 82.8 L441.59 82.97 L443.59 83.13 L445.59 83.29 L447.59 83.44 L449.59 83.58 L451.58 83.71 L453.58 83.84 L455.58 83.96 L457.58 84.08 L459.57 84.19 L461.57 84.29 L463.57 84.39 L465.57 84.49" fill="none" stroke="#6f6a2a" stroke-width="0.7" stroke-linejoin="round" stroke-linecap="round" opacity="0.8"/>
<path d="M310.4 87.1 L310.56 86.96 L310.71 86.82 L310.87 86.68 L311.03 86.54 L311.19 86.4 L311.34 86.27 L311.5 86.13 L311.66 85.99 L311.81 85.86 L311.97 85.72 L312.13 85.59 L312.28 85.45 L312.44 85.32 L312.6 85.19 L312.76 85.06 L312.91 84.92 L313.07 84.79 L313.23 84.66 L313.38 84.53 L314.26 83.82 L315.14 83.12 L316.02 82.44 L316.9 81.78 L317.78 81.13 L318.66 80.5 L319.54 79.88 L320.42 79.29 L321.3 78.7 L322.18 78.13 L323.06 77.58 L323.94 77.04 L324.82 76.51 L325.7 75.99 L326.58 75.49 L327.46 75 L328.34 74.52 L329.22 74.06 L330.1 73.61 L330.98 73.16 L331.86 72.73 L332.74 72.31 L333.62 71.9 L334.5 71.5 L335.38 71.11 L336.26 70.74 L337.14 70.37 L338.02 70 L338.9 69.65 L339.78 69.31 L340.66 68.97 L341.54 68.65 L342.42 68.33 L343.3 68.02 L344.18 67.72 L345.06 67.42 L345.94 67.14 L346.82 66.86 L347.7 66.58 L349.7 67.52 L351.7 68.42 L353.69 69.27 L355.69 70.09 L357.69 70.87 L359.69 71.61 L361.68 72.32 L363.68 73 L365.68 73.64 L367.68 74.26 L369.68 74.85 L371.67 75.41 L373.67 75.94 L375.67 76.45 L377.67 76.94 L379.66 77.41 L381.66 77.85 L383.66 78.27 L385.66 78.68 L387.66 79.06 L389.65 79.43 L391.65 79.78 L393.65 80.12 L395.65 80.44 L397.64 80.74 L399.64 81.03 L401.64 81.31 L403.64 81.58 L405.64 81.83 L407.63 82.07 L409.63 82.3 L411.63 82.52 L413.63 82.73 L415.62 82.93 L417.62 83.12 L419.62 83.3 L421.62 83.48 L423.61 83.64 L425.61 83.8 L427.61 83.95 L429.61 84.1 L431.61 84.23 L433.6 84.37 L435.6 84.49 L437.6 84.61 L439.6 84.72 L441.59 84.83 L443.59 84.94 L445.59 85.04 L447.59 85.13 L449.59 85.22 L451.58 85.31 L453.58 85.39 L455.58 85.47 L457.58 85.54 L459.57 85.61 L461.57 85.68 L463.57 85.75 L465.57 85.81" fill="none" stroke="#2a2a2a" stroke-width="1.1" stroke-linejoin="round" stroke-linecap="round" />
<path d="M310.4 86.5 L310.56 86.36 L310.71 86.22 L310.87 86.08 L311.03 85.94 L311.19 85.8 L311.34 85.67 L311.5 85.53 L311.66 85.39 L311.81 85.26 L311.97 85.12 L312.13 84.99 L312.28 84.85 L312.44 84.72 L312.6 84.59 L312.76 84.46 L312.91 84.32 L313.07 84.19 L313.23 84.06 L313.38 83.93 L314.26 83.22 L315.14 82.52 L316.02 81.84 L316.9 81.18 L317.78 80.53 L318.66 79.9 L319.54 79.28 L320.42 78.69 L321.3 78.1 L322.18 77.53 L323.06 76.98 L323.94 76.44 L324.82 75.91 L325.7 75.39 L326.58 74.89 L327.46 74.4 L328.34 73.92 L329.22 73.46 L330.1 73.01 L330.98 72.56 L331.86 72.13 L332.74 71.71 L333.62 71.3 L334.5 70.9 L335.38 70.51 L336.26 70.14 L337.14 69.77 L338.02 69.4 L338.9 69.05 L339.78 68.71 L340.66 68.37 L341.54 68.05 L342.42 67.73 L343.3 67.42 L344.18 67.12 L345.06 66.82 L345.94 66.54 L346.82 66.26 L347.7 65.98 L349.7 66.92 L351.7 67.82 L353.69 68.67 L355.69 69.49 L357.69 70.27 L359.69 71.01 L361.68 71.72 L363.68 72.4 L365.68 73.04 L367.68 73.66 L369.68 74.25 L371.67 74.81 L373.67 75.34 L375.67 75.85 L377.67 76.34 L379.66 76.81 L381.66 77.25 L383.66 77.67 L385.66 78.08 L387.66 78.46 L389.65 78.83 L391.65 79.18 L393.65 79.52 L395.65 79.84 L397.64 80.14 L399.64 80.43 L401.64 80.71 L403.64 80.98 L405.64 81.23 L407.63 81.47 L409.63 81.7 L411.63 81.92 L413.63 82.13 L415.62 82.33 L417.62 82.52 L419.62 82.7 L421.62 82.88 L423.61 83.04 L425.61 83.2 L427.61 83.35 L429.61 83.5 L431.61 83.63 L433.6 83.77 L435.6 83.89 L437.6 84.01 L439.6 84.12 L441.59 84.23 L443.59 84.34 L445.59 84.44 L447.59 84.53 L449.59 84.62 L451.58 84.71 L453.58 84.79 L455.58 84.87 L457.58 84.94 L459.57 85.01 L461.57 85.08 L463.57 85.15 L465.57 85.21" fill="none" stroke="#7a5aa0" stroke-width="0.7" stroke-linejoin="round" stroke-linecap="round" opacity="0.8"/>
<path d="M310.4 87.1 L310.56 86.98 L310.71 86.86 L310.87 86.74 L311.03 86.62 L311.19 86.5 L311.34 86.38 L311.5 86.26 L311.66 86.15 L311.81 86.03 L311.97 85.91 L312.13 85.8 L312.28 85.68 L312.44 85.57 L312.6 85.45 L312.76 85.34 L312.91 85.22 L313.07 85.11 L313.23 85 L313.38 84.89 L314.26 84.27 L315.14 83.67 L316.02 83.08 L316.9 82.51 L317.78 81.95 L318.66 81.41 L319.54 80.88 L320.42 80.36 L321.3 79.86 L322.18 79.37 L323.06 78.89 L323.94 78.42 L324.82 77.97 L325.7 77.52 L326.58 77.09 L327.46 76.67 L328.34 76.26 L329.22 75.86 L330.1 75.47 L330.98 75.09 L331.86 74.71 L332.74 74.35 L333.62 74 L334.5 73.66 L335.38 73.32 L336.26 72.99 L337.14 72.67 L338.02 72.36 L338.9 72.06 L339.78 71.76 L340.66 71.47 L341.54 71.19 L342.42 70.92 L343.3 70.65 L344.18 70.39 L345.06 70.14 L345.94 69.89 L346.82 69.65 L347.7 69.41 L349.7 70.22 L351.7 71 L353.69 71.73 L355.69 72.44 L357.69 73.11 L359.69 73.75 L361.68 74.36 L363.68 74.94 L365.68 75.5 L367.68 76.03 L369.68 76.54 L371.67 77.02 L373.67 77.48 L375.67 77.92 L377.67 78.34 L379.66 78.74 L381.66 79.13 L383.66 79.49 L385.66 79.84 L387.66 80.17 L389.65 80.49 L391.65 80.79 L393.65 81.08 L395.65 81.36 L397.64 81.62 L399.64 81.87 L401.64 82.11 L403.64 82.34 L405.64 82.56 L407.63 82.76 L409.63 82.96 L411.63 83.15 L413.63 83.33 L415.62 83.51 L417.62 83.67 L419.62 83.83 L421.62 83.98 L423.61 84.12 L425.61 84.26 L427.61 84.39 L429.61 84.51 L431.61 84.63 L433.6 84.74 L435.6 84.85 L437.6 84.95 L439.6 85.05 L441.59 85.15 L443.59 85.23 L445.59 85.32 L447.59 85.4 L449.59 85.48 L451.58 85.55 L453.58 85.62 L455.58 85.69 L457.58 85.76 L459.57 85.82 L461.57 85.88 L463.57 85.93 L465.57 85.99" fill="none" stroke="#2a2a2a" stroke-width="1.1" stroke-linejoin="round" stroke-linecap="round" />
<path d="M310.4 86.5 L310.56 86.38 L310.71 86.26 L310.87 86.14 L311.03 86.02 L311.19 85.9 L311.34 85.78 L311.5 85.66 L311.66 85.55 L311.81 85.43 L311.97 85.31 L312.13 85.2 L312.28 85.08 L312.44 84.97 L312.6 84.85 L312.76 84.74 L312.91 84.62 L313.07 84.51 L313.23 84.4 L313.38 84.29 L314.26 83.67 L315.14 83.07 L316.02 82.48 L316.9 81.91 L317.78 81.35 L318.66 80.81 L319.54 80.28 L320.42 79.76 L321.3 79.26 L322.18 78.77 L323.06 78.29 L323.94 77.82 L324.82 77.37 L325.7 76.92 L326.58 76.49 L327.46 76.07 L328.34 75.66 L329.22 75.26 L330.1 74.87 L330.98 74.49 L331.86 74.11 L332.74 73.75 L333.62 73.4 L334.5 73.06 L335.38 72.72 L336.26 72.39 L337.14 72.07 L338.02 71.76 L338.9 71.46 L339.78 71.16 L340.66 70.87 L341.54 70.59 L342.42 70.32 L343.3 70.05 L344.18 69.79 L345.06 69.54 L345.94 69.29 L346.82 69.05 L347.7 68.81 L349.7 69.62 L351.7 70.4 L353.69 71.13 L355.69 71.84 L357.69 72.51 L359.69 73.15 L361.68 73.76 L363.68 74.34 L365.68 74.9 L367.68 75.43 L369.68 75.94 L371.67 76.42 L373.67 76.88 L375.67 77.32 L377.67 77.74 L379.66 78.14 L381.66 78.53 L383.66 78.89 L385.66 79.24 L387.66 79.57 L389.65 79.89 L391.65 80.19 L393.65 80.48 L395.65 80.76 L397.64 81.02 L399.64 81.27 L401.64 81.51 L403.64 81.74 L405.64 81.96 L407.63 82.16 L409.63 82.36 L411.63 82.55 L413.63 82.73 L415.62 82.91 L417.62 83.07 L419.62 83.23 L421.62 83.38 L423.61 83.52 L425.61 83.66 L427.61 83.79 L429.61 83.91 L431.61 84.03 L433.6 84.14 L435.6 84.25 L437.6 84.35 L439.6 84.45 L441.59 84.55 L443.59 84.63 L445.59 84.72 L447.59 84.8 L449.59 84.88 L451.58 84.95 L453.58 85.02 L455.58 85.09 L457.58 85.16 L459.57 85.22 L461.57 85.28 L463.57 85.33 L465.57 85.39" fill="none" stroke="#a06080" stroke-width="0.7" stroke-linejoin="round" stroke-linecap="round" opacity="0.8"/>
<path d="M310.4 87.1 L310.56 87.04 L310.71 86.98 L310.87 86.92 L311.03 86.85 L311.19 86.79 L311.34 86.73 L311.5 86.67 L311.66 86.61 L311.81 86.55 L311.97 86.49 L312.13 86.43 L312.28 86.37 L312.44 86.31 L312.6 86.25 L312.76 86.19 L312.91 86.14 L313.07 86.08 L313.23 86.02 L313.38 85.96 L314.26 85.64 L315.14 85.32 L316.02 85 L316.9 84.69 L317.78 84.39 L318.66 84.09 L319.54 83.8 L320.42 83.51 L321.3 83.22 L322.18 82.95 L323.06 82.67 L323.94 82.4 L324.82 82.13 L325.7 81.87 L326.58 81.61 L327.46 81.36 L328.34 81.11 L329.22 80.87 L330.1 80.63 L330.98 80.39 L331.86 80.16 L332.74 79.93 L333.62 79.7 L334.5 79.48 L335.38 79.26 L336.26 79.05 L337.14 78.84 L338.02 78.63 L338.9 78.42 L339.78 78.22 L340.66 78.03 L341.54 77.83 L342.42 77.64 L343.3 77.45 L344.18 77.27 L345.06 77.09 L345.94 76.91 L346.82 76.73 L347.7 76.56 L349.7 77.04 L351.7 77.5 L353.69 77.94 L355.69 78.36 L357.69 78.76 L359.69 79.14 L361.68 79.51 L363.68 79.85 L365.68 80.19 L367.68 80.5 L369.68 80.8 L371.67 81.09 L373.67 81.37 L375.67 81.63 L377.67 81.88 L379.66 82.12 L381.66 82.35 L383.66 82.56 L385.66 82.77 L387.66 82.97 L389.65 83.16 L391.65 83.34 L393.65 83.51 L395.65 83.68 L397.64 83.83 L399.64 83.98 L401.64 84.13 L403.64 84.26 L405.64 84.39 L407.63 84.52 L409.63 84.63 L411.63 84.75 L413.63 84.85 L415.62 84.96 L417.62 85.06 L419.62 85.15 L421.62 85.24 L423.61 85.32 L425.61 85.4 L427.61 85.48 L429.61 85.56 L431.61 85.63 L433.6 85.69 L435.6 85.76 L437.6 85.82 L439.6 85.88 L441.59 85.93 L443.59 85.99 L445.59 86.04 L447.59 86.09 L449.59 86.13 L451.58 86.18 L453.58 86.22 L455.58 86.26 L457.58 86.3 L459.57 86.34 L461.57 86.37 L463.57 86.4 L465.57 86.44" fill="none" stroke="#2a2a2a" stroke-width="1.1" stroke-linejoin="round" stroke-linecap="round" />
<path d="M310.4 86.5 L310.56 86.44 L310.71 86.38 L310.87 86.32 L311.03 86.25 L311.19 86.19 L311.34 86.13 L311.5 86.07 L311.66 86.01 L311.81 85.95 L311.97 85.89 L312.13 85.83 L312.28 85.77 L312.44 85.71 L312.6 85.65 L312.76 85.59 L312.91 85.54 L313.07 85.48 L313.23 85.42 L313.38 85.36 L314.26 85.04 L315.14 84.72 L316.02 84.4 L316.9 84.09 L317.78 83.79 L318.66 83.49 L319.54 83.2 L320.42 82.91 L321.3 82.62 L322.18 82.35 L323.06 82.07 L323.94 81.8 L324.82 81.53 L325.7 81.27 L326.58 81.01 L327.46 80.76 L328.34 80.51 L329.22 80.27 L330.1 80.03 L330.98 79.79 L331.86 79.56 L332.74 79.33 L333.62 79.1 L334.5 78.88 L335.38 78.66 L336.26 78.45 L337.14 78.24 L338.02 78.03 L338.9 77.82 L339.78 77.62 L340.66 77.43 L341.54 77.23 L342.42 77.04 L343.3 76.85 L344.18 76.67 L345.06 76.49 L345.94 76.31 L346.82 76.13 L347.7 75.96 L349.7 76.44 L351.7 76.9 L353.69 77.34 L355.69 77.76 L357.69 78.16 L359.69 78.54 L361.68 78.91 L363.68 79.25 L365.68 79.59 L367.68 79.9 L369.68 80.2 L371.67 80.49 L373.67 80.77 L375.67 81.03 L377.67 81.28 L379.66 81.52 L381.66 81.75 L383.66 81.96 L385.66 82.17 L387.66 82.37 L389.65 82.56 L391.65 82.74 L393.65 82.91 L395.65 83.08 L397.64 83.23 L399.64 83.38 L401.64 83.53 L403.64 83.66 L405.64 83.79 L407.63 83.92 L409.63 84.03 L411.63 84.15 L413.63 84.25 L415.62 84.36 L417.62 84.46 L419.62 84.55 L421.62 84.64 L423.61 84.72 L425.61 84.8 L427.61 84.88 L429.61 84.96 L431.61 85.03 L433.6 85.09 L435.6 85.16 L437.6 85.22 L439.6 85.28 L441.59 85.33 L443.59 85.39 L445.59 85.44 L447.59 85.49 L449.59 85.53 L451.58 85.58 L453.58 85.62 L455.58 85.66 L457.58 85.7 L459.57 85.74 L461.57 85.77 L463.57 85.8 L465.57 85.84" fill="none" stroke="#555555" stroke-width="0.7" stroke-linejoin="round" stroke-linecap="round" opacity="0.8"/>
<path d="M310.4 87.1 L310.56 87.06 L310.71 87.02 L310.87 86.98 L311.03 86.94 L311.19 86.9 L311.34 86.85 L311.5 86.81 L311.66 86.77 L311.81 86.73 L311.97 86.69 L312.13 86.65 L312.28 86.61 L312.44 86.57 L312.6 86.53 L312.76 86.49 L312.91 86.46 L313.07 86.42 L313.23 86.38 L313.38 86.34 L314.26 86.12 L315.14 85.91 L316.02 85.7 L316.9 85.49 L317.78 85.29 L318.66 85.09 L319.54 84.89 L320.42 84.69 L321.3 84.5 L322.18 84.32 L323.06 84.13 L323.94 83.95 L324.82 83.77 L325.7 83.59 L326.58 83.42 L327.46 83.25 L328.34 83.08 L329.22 82.91 L330.1 82.75 L330.98 82.59 L331.86 82.43 L332.74 82.28 L333.62 82.13 L334.5 81.97 L335.38 81.83 L336.26 81.68 L337.14 81.54 L338.02 81.4 L338.9 81.26 L339.78 81.12 L340.66 80.99 L341.54 80.85 L342.42 80.72 L343.3 80.6 L344.18 80.47 L345.06 80.34 L345.94 80.22 L346.82 80.1 L347.7 79.98 L349.7 80.31 L351.7 80.62 L353.69 80.92 L355.69 81.2 L357.69 81.47 L359.69 81.73 L361.68 81.97 L363.68 82.21 L365.68 82.43 L367.68 82.65 L369.68 82.85 L371.67 83.04 L373.67 83.23 L375.67 83.41 L377.67 83.58 L379.66 83.74 L381.66 83.89 L383.66 84.04 L385.66 84.18 L387.66 84.31 L389.65 84.44 L391.65 84.56 L393.65 84.68 L395.65 84.79 L397.64 84.89 L399.64 85 L401.64 85.09 L403.64 85.18 L405.64 85.27 L407.63 85.36 L409.63 85.44 L411.63 85.51 L413.63 85.58 L415.62 85.65 L417.62 85.72 L419.62 85.78 L421.62 85.84 L423.61 85.9 L425.61 85.96 L427.61 86.01 L429.61 86.06 L431.61 86.11 L433.6 86.15 L435.6 86.19 L437.6 86.24 L439.6 86.28 L441.59 86.31 L443.59 86.35 L445.59 86.38 L447.59 86.42 L449.59 86.45 L451.58 86.48 L453.58 86.51 L455.58 86.53 L457.58 86.56 L459.57 86.58 L461.57 86.61 L463.57 86.63 L465.57 86.65" fill="none" stroke="#2a2a2a" stroke-width="1.1" stroke-linejoin="round" stroke-linecap="round" />
<path d="M310.4 86.5 L310.56 86.46 L310.71 86.42 L310.87 86.38 L311.03 86.34 L311.19 86.3 L311.34 86.25 L311.5 86.21 L311.66 86.17 L311.81 86.13 L311.97 86.09 L312.13 86.05 L312.28 86.01 L312.44 85.97 L312.6 85.93 L312.76 85.89 L312.91 85.86 L313.07 85.82 L313.23 85.78 L313.38 85.74 L314.26 85.52 L315.14 85.31 L316.02 85.1 L316.9 84.89 L317.78 84.69 L318.66 84.49 L319.54 84.29 L320.42 84.09 L321.3 83.9 L322.18 83.72 L323.06 83.53 L323.94 83.35 L324.82 83.17 L325.7 82.99 L326.58 82.82 L327.46 82.65 L328.34 82.48 L329.22 82.31 L330.1 82.15 L330.98 81.99 L331.86 81.83 L332.74 81.68 L333.62 81.53 L334.5 81.37 L335.38 81.23 L336.26 81.08 L337.14 80.94 L338.02 80.8 L338.9 80.66 L339.78 80.52 L340.66 80.39 L341.54 80.25 L342.42 80.12 L343.3 80 L344.18 79.87 L345.06 79.74 L345.94 79.62 L346.82 79.5 L347.7 79.38 L349.7 79.71 L351.7 80.02 L353.69 80.32 L355.69 80.6 L357.69 80.87 L359.69 81.13 L361.68 81.37 L363.68 81.61 L365.68 81.83 L367.68 82.05 L369.68 82.25 L371.67 82.44 L373.67 82.63 L375.67 82.81 L377.67 82.98 L379.66 83.14 L381.66 83.29 L383.66 83.44 L385.66 83.58 L387.66 83.71 L389.65 83.84 L391.65 83.96 L393.65 84.08 L395.65 84.19 L397.64 84.29 L399.64 84.4 L401.64 84.49 L403.64 84.58 L405.64 84.67 L407.63 84.76 L409.63 84.84 L411.63 84.91 L413.63 84.98 L415.62 85.05 L417.62 85.12 L419.62 85.18 L421.62 85.24 L423.61 85.3 L425.61 85.36 L427.61 85.41 L429.61 85.46 L431.61 85.51 L433.6 85.55 L435.6 85.59 L437.6 85.64 L439.6 85.68 L441.59 85.71 L443.59 85.75 L445.59 85.78 L447.59 85.82 L449.59 85.85 L451.58 85.88 L453.58 85.91 L455.58 85.93 L457.58 85.96 L459.57 85.98 L461.57 86.01 L463.57 86.03 L465.57 86.05" fill="none" stroke="#b07070" stroke-width="0.7" stroke-linejoin="round" stroke-linecap="round" opacity="0.8"/>
<path d="M310.4 87.1 L310.56 87.08 L310.71 87.06 L310.87 87.04 L311.03 87.02 L311.19 86.99 L311.34 86.97 L311.5 86.95 L311.66 86.93 L311.81 86.91 L311.97 86.89 L312.13 86.87 L312.28 86.85 L312.44 86.83 L312.6 86.81 L312.76 86.79 L312.91 86.77 L313.07 86.75 L313.23 86.73 L313.38 86.71 L314.26 86.6 L315.14 86.48 L316.02 86.38 L316.9 86.27 L317.78 86.16 L318.66 86.06 L319.54 85.96 L320.42 85.85 L321.3 85.76 L322.18 85.66 L323.06 85.56 L323.94 85.46 L324.82 85.37 L325.7 85.28 L326.58 85.19 L327.46 85.1 L328.34 85.01 L329.22 84.92 L330.1 84.84 L330.98 84.75 L331.86 84.67 L332.74 84.58 L333.62 84.5 L334.5 84.42 L335.38 84.34 L336.26 84.27 L337.14 84.19 L338.02 84.12 L338.9 84.04 L339.78 83.97 L340.66 83.9 L341.54 83.83 L342.42 83.76 L343.3 83.69 L344.18 83.62 L345.06 83.55 L345.94 83.49 L346.82 83.42 L347.7 83.36 L349.7 83.53 L351.7 83.69 L353.69 83.85 L355.69 84 L357.69 84.14 L359.69 84.27 L361.68 84.4 L363.68 84.53 L365.68 84.64 L367.68 84.76 L369.68 84.86 L371.67 84.97 L373.67 85.06 L375.67 85.16 L377.67 85.25 L379.66 85.33 L381.66 85.41 L383.66 85.49 L385.66 85.56 L387.66 85.63 L389.65 85.7 L391.65 85.76 L393.65 85.83 L395.65 85.88 L397.64 85.94 L399.64 85.99 L401.64 86.04 L403.64 86.09 L405.64 86.14 L407.63 86.18 L409.63 86.22 L411.63 86.26 L413.63 86.3 L415.62 86.34 L417.62 86.37 L419.62 86.41 L421.62 86.44 L423.61 86.47 L425.61 86.5 L427.61 86.53 L429.61 86.55 L431.61 86.58 L433.6 86.6 L435.6 86.62 L437.6 86.65 L439.6 86.67 L441.59 86.69 L443.59 86.71 L445.59 86.72 L447.59 86.74 L449.59 86.76 L451.58 86.77 L453.58 86.79 L455.58 86.8 L457.58 86.82 L459.57 86.83 L461.57 86.84 L463.57 86.85 L465.57 86.86" fill="none" stroke="#2a2a2a" stroke-width="1.1" stroke-linejoin="round" stroke-linecap="round" />
<path d="M310.4 86.5 L310.56 86.48 L310.71 86.46 L310.87 86.44 L311.03 86.42 L311.19 86.39 L311.34 86.37 L311.5 86.35 L311.66 86.33 L311.81 86.31 L311.97 86.29 L312.13 86.27 L312.28 86.25 L312.44 86.23 L312.6 86.21 L312.76 86.19 L312.91 86.17 L313.07 86.15 L313.23 86.13 L313.38 86.11 L314.26 86 L315.14 85.88 L316.02 85.78 L316.9 85.67 L317.78 85.56 L318.66 85.46 L319.54 85.36 L320.42 85.25 L321.3 85.16 L322.18 85.06 L323.06 84.96 L323.94 84.86 L324.82 84.77 L325.7 84.68 L326.58 84.59 L327.46 84.5 L328.34 84.41 L329.22 84.32 L330.1 84.24 L330.98 84.15 L331.86 84.07 L332.74 83.98 L333.62 83.9 L334.5 83.82 L335.38 83.74 L336.26 83.67 L337.14 83.59 L338.02 83.52 L338.9 83.44 L339.78 83.37 L340.66 83.3 L341.54 83.23 L342.42 83.16 L343.3 83.09 L344.18 83.02 L345.06 82.95 L345.94 82.89 L346.82 82.82 L347.7 82.76 L349.7 82.93 L351.7 83.09 L353.69 83.25 L355.69 83.4 L357.69 83.54 L359.69 83.67 L361.68 83.8 L363.68 83.93 L365.68 84.04 L367.68 84.16 L369.68 84.26 L371.67 84.37 L373.67 84.46 L375.67 84.56 L377.67 84.65 L379.66 84.73 L381.66 84.81 L383.66 84.89 L385.66 84.96 L387.66 85.03 L389.65 85.1 L391.65 85.16 L393.65 85.23 L395.65 85.28 L397.64 85.34 L399.64 85.39 L401.64 85.44 L403.64 85.49 L405.64 85.54 L407.63 85.58 L409.63 85.62 L411.63 85.66 L413.63 85.7 L415.62 85.74 L417.62 85.77 L419.62 85.81 L421.62 85.84 L423.61 85.87 L425.61 85.9 L427.61 85.93 L429.61 85.95 L431.61 85.98 L433.6 86 L435.6 86.02 L437.6 86.05 L439.6 86.07 L441.59 86.09 L443.59 86.11 L445.59 86.12 L447.59 86.14 L449.59 86.16 L451.58 86.17 L453.58 86.19 L455.58 86.2 L457.58 86.22 L459.57 86.23 L461.57 86.24 L463.57 86.25 L465.57 86.26" fill="none" stroke="#7070b0" stroke-width="0.7" stroke-linejoin="round" stroke-linecap="round" opacity="0.8"/>
<text x="111.6" y="143.3" font-size="9" fill="#2e2e2e" stroke="#2e2e2e" stroke-width="0.2" textLength="54.2" lengthAdjust="spacingAndGlyphs" >RS4;11 G101V</text>
<line x1="57.5" y1="149.2" x2="57.5" y2="259.3" stroke="#262626" stroke-width="1.2" />
<line x1="54.5" y1="151" x2="57.5" y2="151" stroke="#262626" stroke-width="1.2" />
<text x="52" y="153.3" font-size="6.4" fill="#424242" stroke="#424242" stroke-width="0.2" text-anchor="end" >120</text>
<line x1="54.5" y1="194.3" x2="57.5" y2="194.3" stroke="#262626" stroke-width="1.2" />
<text x="52" y="196.6" font-size="6.4" fill="#424242" stroke="#424242" stroke-width="0.2" text-anchor="end" >60</text>
<line x1="54.5" y1="237.2" x2="57.5" y2="237.2" stroke="#262626" stroke-width="1.2" />
<text x="52" y="239.5" font-size="6.4" fill="#424242" stroke="#424242" stroke-width="0.2" text-anchor="end" >0</text>
<line x1="54.5" y1="258.8" x2="57.5" y2="258.8" stroke="#262626" stroke-width="1.2" />
<text x="52" y="261.1" font-size="6.4" fill="#424242" stroke="#424242" stroke-width="0.2" text-anchor="end" >−30</text>
<line x1="57.5" y1="259.3" x2="220.5" y2="259.3" stroke="#262626" stroke-width="1.2" />
<line x1="58" y1="259.3" x2="58" y2="262.3" stroke="#262626" stroke-width="1.2" />
<text x="58" y="270.9" font-size="6.4" fill="#424242" stroke="#424242" stroke-width="0.2" text-anchor="middle" >−2</text>
<line x1="104" y1="259.3" x2="104" y2="262.3" stroke="#262626" stroke-width="1.2" />
<text x="104" y="270.9" font-size="6.4" fill="#424242" stroke="#424242" stroke-width="0.2" text-anchor="middle" >0</text>
<line x1="150" y1="259.3" x2="150" y2="262.3" stroke="#262626" stroke-width="1.2" />
<text x="150" y="270.9" font-size="6.4" fill="#424242" stroke="#424242" stroke-width="0.2" text-anchor="middle" >2</text>
<line x1="196.2" y1="259.3" x2="196.2" y2="262.3" stroke="#262626" stroke-width="1.2" />
<text x="196.2" y="270.9" font-size="6.4" fill="#424242" stroke="#424242" stroke-width="0.2" text-anchor="middle" >4</text>
<text x="26.1" y="202.75" font-size="8.4" fill="#353535" stroke="#353535" stroke-width="0.2" text-anchor="middle" textLength="92" lengthAdjust="spacingAndGlyphs" transform="rotate(-90 26.1 202.75)" >% Cellular BCL2-BIM interaction</text>
<text x="36.1" y="203.35" font-size="8.4" fill="#353535" stroke="#353535" stroke-width="0.2" text-anchor="middle" textLength="65.5" lengthAdjust="spacingAndGlyphs" transform="rotate(-90 36.1 203.35)" >(normalized to DMSO)</text>
<text x="104.6" y="282.2" font-size="8.2" fill="#353535" stroke="#353535" stroke-width="0.2" textLength="68.4" lengthAdjust="spacingAndGlyphs" >Log concentration [nM]</text>
<line x1="57.5" y1="202.3" x2="221" y2="202.3" stroke="#222" stroke-width="1.1" stroke-dasharray="2.2 1.9"/>
<path d="M57.5 165.35 L59.26 165.38 L61.02 165.42 L62.78 165.47 L64.54 165.52 L66.3 165.58 L68.06 165.65 L69.82 165.73 L71.58 165.82 L73.34 165.92 L75.09 166.04 L76.85 166.17 L78.61 166.32 L80.37 166.5 L82.13 166.69 L83.89 166.92 L85.65 167.17 L87.41 167.46 L89.17 167.79 L90.93 168.16 L92.69 168.58 L94.45 169.05 L96.21 169.59 L97.97 170.19 L99.73 170.87 L101.49 171.63 L103.25 172.49 L105.01 173.43 L106.77 174.49 L108.53 175.66 L110.28 176.95 L112.04 178.37 L113.8 179.91 L115.56 181.6 L117.32 183.42 L119.08 185.37 L120.84 187.46 L122.6 189.68 L124.36 192 L126.12 194.43 L127.88 196.95 L129.64 199.53 L131.4 202.15 L133.16 204.8 L134.92 207.44 L136.68 210.06 L138.44 212.63 L140.2 215.13 L141.96 217.54 L143.72 219.85 L145.47 222.04 L147.23 224.1 L148.99 226.03 L150.75 227.83 L152.51 229.49 L154.27 231.01 L156.03 232.41 L157.79 233.67 L159.55 234.82 L161.31 235.86 L163.07 236.79 L164.83 237.62 L166.59 238.37 L168.35 239.03 L170.11 239.62 L171.87 240.15 L173.63 240.61 L175.39 241.02 L177.15 241.38 L178.91 241.7 L180.66 241.99 L182.42 242.23 L184.18 242.45 L185.94 242.65 L187.7 242.81 L189.46 242.96 L191.22 243.09 L192.98 243.21 L194.74 243.31 L196.5 243.39" fill="none" stroke="#c8163c" stroke-width="1.2" stroke-linejoin="round" stroke-linecap="round" />
<path d="M57.5 166.66 L59.26 166.69 L61.02 166.72 L62.78 166.76 L64.54 166.8 L66.3 166.84 L68.06 166.89 L69.82 166.94 L71.58 167 L73.34 167.06 L75.09 167.13 L76.85 167.2 L78.61 167.28 L80.37 167.37 L82.13 167.47 L83.89 167.57 L85.65 167.68 L87.41 167.81 L89.17 167.94 L90.93 168.09 L92.69 168.25 L94.45 168.42 L96.21 168.61 L97.97 168.81 L99.73 169.04 L101.49 169.28 L103.25 169.54 L105.01 169.83 L106.77 170.13 L108.53 170.47 L110.28 170.83 L112.04 171.22 L113.8 171.65 L115.56 172.1 L117.32 172.6 L119.08 173.13 L120.84 173.71 L122.6 174.32 L124.36 174.99 L126.12 175.7 L127.88 176.46 L129.64 177.27 L131.4 178.14 L133.16 179.07 L134.92 180.06 L136.68 181.11 L138.44 182.22 L140.2 183.4 L141.96 184.64 L143.72 185.94 L145.47 187.31 L147.23 188.74 L148.99 190.23 L150.75 191.79 L152.51 193.4 L154.27 195.06 L156.03 196.78 L157.79 198.54 L159.55 200.34 L161.31 202.17 L163.07 204.04 L164.83 205.92 L166.59 207.82 L168.35 209.72 L170.11 211.63 L171.87 213.52 L173.63 215.41 L175.39 217.27 L177.15 219.1 L178.91 220.89 L180.66 222.65 L182.42 224.36 L184.18 226.02 L185.94 227.62 L187.7 229.17 L189.46 230.65 L191.22 232.08 L192.98 233.44 L194.74 234.73 L196.5 235.97" fill="none" stroke="#24507e" stroke-width="1.2" stroke-linejoin="round" stroke-linecap="round" />
<rect x="57.5" y="164.3" width="4.5" height="2.6" fill="#d88a9a" opacity="0.7"/>
<circle cx="67" cy="165.8" r="1.75" fill="#24507e"/>
<circle cx="83.2" cy="169.2" r="1.75" fill="#24507e"/>
<circle cx="99.6" cy="168.5" r="1.75" fill="#24507e"/>
<circle cx="115.5" cy="173.8" r="1.75" fill="#24507e"/>
<circle cx="131.6" cy="178.6" r="1.75" fill="#24507e"/>
<circle cx="147.5" cy="189.5" r="1.75" fill="#24507e"/>
<circle cx="164" cy="204.5" r="1.75" fill="#24507e"/>
<circle cx="180.2" cy="222.9" r="1.75" fill="#24507e"/>
<circle cx="196.5" cy="236" r="1.75" fill="#24507e"/>
<rect x="65.3" y="162.9" width="3.4" height="3.4" fill="#c8163c"/>
<rect x="81.5" y="164.9" width="3.4" height="3.4" fill="#c8163c"/>
<rect x="97.9" y="171.4" width="3.4" height="3.4" fill="#c8163c"/>
<rect x="113.8" y="180.6" width="3.4" height="3.4" fill="#c8163c"/>
<rect x="129.9" y="199.1" width="3.4" height="3.4" fill="#c8163c"/>
<rect x="146" y="224.6" width="3.4" height="3.4" fill="#c8163c"/>
<rect x="162.1" y="234.6" width="3.4" height="3.4" fill="#c8163c"/>
<rect x="178.5" y="240" width="3.4" height="3.4" fill="#c8163c"/>
<rect x="194.5" y="242" width="3.4" height="3.4" fill="#c8163c"/>
<line x1="61.5" y1="244.7" x2="73.5" y2="244.7" stroke="#c8163c" stroke-width="1.1" />
<rect x="65.7" y="242.7" width="4" height="4" fill="#c8163c"/>
<line x1="61.5" y1="252.9" x2="73.5" y2="252.9" stroke="#24507e" stroke-width="1.1" />
<circle cx="67.7" cy="252.9" r="2.2" fill="#24507e"/>
<text x="76.6" y="246.6" font-size="7.4" fill="#2e2e2e" stroke="#2e2e2e" stroke-width="0.2" textLength="96.1" lengthAdjust="spacingAndGlyphs" >Sonrotoclax (IC<tspan font-size="4.3" dy="1.3">50</tspan><tspan dy="-1.3"> = 20 ± 0.58 nM)</tspan></text>
<text x="76.6" y="255.3" font-size="7.4" fill="#2e2e2e" stroke="#2e2e2e" stroke-width="0.2" textLength="92.6" lengthAdjust="spacingAndGlyphs" >Venetoclax (IC<tspan font-size="4.3" dy="1.3">50</tspan><tspan dy="-1.3"> = 264 ± 48 nM)</tspan></text>
<line x1="292.5" y1="149.5" x2="292.5" y2="259.2" stroke="#262626" stroke-width="1.2" />
<line x1="289.5" y1="151.4" x2="292.5" y2="151.4" stroke="#262626" stroke-width="1.2" />
<text x="287" y="153.7" font-size="6.4" fill="#424242" stroke="#424242" stroke-width="0.2" text-anchor="end" >120</text>
<line x1="289.5" y1="194.5" x2="292.5" y2="194.5" stroke="#262626" stroke-width="1.2" />
<text x="287" y="196.8" font-size="6.4" fill="#424242" stroke="#424242" stroke-width="0.2" text-anchor="end" >60</text>
<line x1="289.5" y1="237.2" x2="292.5" y2="237.2" stroke="#262626" stroke-width="1.2" />
<text x="287" y="239.5" font-size="6.4" fill="#424242" stroke="#424242" stroke-width="0.2" text-anchor="end" >0</text>
<line x1="289.5" y1="258.8" x2="292.5" y2="258.8" stroke="#262626" stroke-width="1.2" />
<text x="287" y="261.1" font-size="6.4" fill="#424242" stroke="#424242" stroke-width="0.2" text-anchor="end" >−30</text>
<line x1="292.5" y1="259.2" x2="454" y2="259.2" stroke="#262626" stroke-width="1.2" />
<line x1="292.5" y1="259.2" x2="292.5" y2="262.2" stroke="#262626" stroke-width="1.2" />
<text x="292.5" y="270.4" font-size="6.4" fill="#424242" stroke="#424242" stroke-width="0.2" text-anchor="middle" >−2</text>
<line x1="339.1" y1="259.2" x2="339.1" y2="262.2" stroke="#262626" stroke-width="1.2" />
<text x="339.1" y="270.4" font-size="6.4" fill="#424242" stroke="#424242" stroke-width="0.2" text-anchor="middle" >0</text>
<line x1="384.8" y1="259.2" x2="384.8" y2="262.2" stroke="#262626" stroke-width="1.2" />
<text x="384.8" y="270.4" font-size="6.4" fill="#424242" stroke="#424242" stroke-width="0.2" text-anchor="middle" >2</text>
<line x1="431" y1="259.2" x2="431" y2="262.2" stroke="#262626" stroke-width="1.2" />
<text x="431" y="270.4" font-size="6.4" fill="#424242" stroke="#424242" stroke-width="0.2" text-anchor="middle" >4</text>
<text x="261.7" y="202.85" font-size="8.4" fill="#353535" stroke="#353535" stroke-width="0.2" text-anchor="middle" textLength="44" lengthAdjust="spacingAndGlyphs" transform="rotate(-90 261.7 202.85)" >% Cell viability</text>
<text x="271.2" y="203.1" font-size="8.4" fill="#353535" stroke="#353535" stroke-width="0.2" text-anchor="middle" textLength="66" lengthAdjust="spacingAndGlyphs" transform="rotate(-90 271.2 203.1)" >(normalized to DMSO)</text>
<text x="339.6" y="282.2" font-size="8.2" fill="#353535" stroke="#353535" stroke-width="0.2" textLength="68.5" lengthAdjust="spacingAndGlyphs" >Log concentration [nM]</text>
<line x1="292.5" y1="202.5" x2="453.5" y2="202.5" stroke="#222" stroke-width="1.1" stroke-dasharray="2.2 1.9"/>
<path d="M292.5 164.83 L293.96 164.84 L295.42 164.85 L296.89 164.87 L298.35 164.88 L299.81 164.91 L301.27 164.94 L302.73 164.99 L304.2 165.05 L305.66 165.14 L307.12 165.25 L308.58 165.41 L310.04 165.62 L311.51 165.9 L312.97 166.29 L314.43 166.8 L315.89 167.48 L317.35 168.39 L318.82 169.59 L320.28 171.15 L321.74 173.16 L323.2 175.69 L324.66 178.84 L326.13 182.62 L327.59 187.04 L329.05 192.01 L330.51 197.37 L331.97 202.89 L333.44 208.33 L334.9 213.44 L336.36 218.05 L337.82 222.04 L339.28 225.38 L340.75 228.11 L342.21 230.28 L343.67 231.97 L345.13 233.27 L346.59 234.27 L348.06 235.02 L349.52 235.58 L350.98 236 L352.44 236.31 L353.91 236.54 L355.37 236.72 L356.83 236.84 L358.29 236.94 L359.75 237.01 L361.22 237.06 L362.68 237.09 L364.14 237.12 L365.6 237.14 L367.06 237.16 L368.53 237.17 L369.99 237.18 L371.45 237.18 L372.91 237.19 L374.37 237.19 L375.84 237.19 L377.3 237.2 L378.76 237.2 L380.22 237.2 L381.68 237.2 L383.15 237.2 L384.61 237.2 L386.07 237.2 L387.53 237.2 L388.99 237.2 L390.46 237.2 L391.92 237.2 L393.38 237.2 L394.84 237.2 L396.3 237.2 L397.77 237.2 L399.23 237.2 L400.69 237.2 L402.15 237.2 L403.61 237.2 L405.08 237.2 L406.54 237.2 L408 237.2" fill="none" stroke="#eba3a6" stroke-width="0.8" stroke-linejoin="round" stroke-linecap="round" stroke-dasharray="1.2 1.4" />
<path d="M292.5 164.81 L294.25 164.81 L296.01 164.81 L297.76 164.81 L299.51 164.81 L301.27 164.82 L303.02 164.82 L304.77 164.82 L306.53 164.82 L308.28 164.82 L310.03 164.82 L311.78 164.83 L313.54 164.84 L315.29 164.85 L317.04 164.86 L318.8 164.88 L320.55 164.91 L322.3 164.95 L324.06 165.01 L325.81 165.09 L327.56 165.21 L329.32 165.39 L331.07 165.63 L332.82 165.98 L334.58 166.47 L336.33 167.15 L338.08 168.12 L339.84 169.45 L341.59 171.27 L343.34 173.71 L345.09 176.9 L346.85 180.95 L348.6 185.88 L350.35 191.59 L352.11 197.86 L353.86 204.33 L355.61 210.59 L357.37 216.28 L359.12 221.19 L360.87 225.21 L362.63 228.38 L364.38 230.8 L366.13 232.61 L367.89 233.93 L369.64 234.88 L371.39 235.56 L373.15 236.05 L374.9 236.39 L376.65 236.63 L378.41 236.8 L380.16 236.92 L381.91 237.01 L383.66 237.06 L385.42 237.1 L387.17 237.13 L388.92 237.15 L390.68 237.17 L392.43 237.18 L394.18 237.18 L395.94 237.19 L397.69 237.19 L399.44 237.19 L401.2 237.2 L402.95 237.2 L404.7 237.2 L406.46 237.2 L408.21 237.2 L409.96 237.2 L411.72 237.2 L413.47 237.2 L415.22 237.2 L416.97 237.2 L418.73 237.2 L420.48 237.2 L422.23 237.2 L423.99 237.2 L425.74 237.2 L427.49 237.2 L429.25 237.2 L431 237.2" fill="none" stroke="#98a8c2" stroke-width="0.8" stroke-linejoin="round" stroke-linecap="round" stroke-dasharray="1.2 1.4" />
<path d="M292.5 164.81 L294.25 164.81 L296.01 164.81 L297.76 164.82 L299.51 164.82 L301.27 164.82 L303.02 164.82 L304.77 164.82 L306.53 164.82 L308.28 164.82 L310.03 164.83 L311.78 164.83 L313.54 164.84 L315.29 164.85 L317.04 164.86 L318.8 164.88 L320.55 164.9 L322.3 164.93 L324.06 164.97 L325.81 165.02 L327.56 165.08 L329.32 165.17 L331.07 165.29 L332.82 165.45 L334.58 165.67 L336.33 165.95 L338.08 166.32 L339.84 166.81 L341.59 167.45 L343.34 168.29 L345.09 169.37 L346.85 170.77 L348.6 172.55 L350.35 174.78 L352.11 177.53 L353.86 180.84 L355.61 184.72 L357.37 189.14 L359.12 193.99 L360.87 199.12 L362.63 204.33 L364.38 209.4 L366.13 214.15 L367.89 218.42 L369.64 222.15 L371.39 225.3 L373.15 227.9 L374.9 230 L376.65 231.66 L378.41 232.97 L380.16 233.98 L381.91 234.76 L383.66 235.36 L385.42 235.81 L387.17 236.15 L388.92 236.41 L390.68 236.61 L392.43 236.76 L394.18 236.87 L395.94 236.95 L397.69 237.01 L399.44 237.06 L401.2 237.09 L402.95 237.12 L404.7 237.14 L406.46 237.16 L408.21 237.17 L409.96 237.17 L411.72 237.18 L413.47 237.19 L415.22 237.19 L416.97 237.19 L418.73 237.19 L420.48 237.2 L422.23 237.2 L423.99 237.2 L425.74 237.2 L427.49 237.2 L429.25 237.2 L431 237.2" fill="none" stroke="#c8163c" stroke-width="1.3" stroke-linejoin="round" stroke-linecap="round" />
<path d="M292.5 164.81 L294.25 164.81 L296.01 164.81 L297.76 164.81 L299.51 164.81 L301.27 164.81 L303.02 164.81 L304.77 164.81 L306.53 164.81 L308.28 164.81 L310.03 164.81 L311.78 164.81 L313.54 164.81 L315.29 164.81 L317.04 164.81 L318.8 164.81 L320.55 164.81 L322.3 164.81 L324.06 164.81 L325.81 164.82 L327.56 164.82 L329.32 164.82 L331.07 164.82 L332.82 164.82 L334.58 164.82 L336.33 164.83 L338.08 164.83 L339.84 164.83 L341.59 164.84 L343.34 164.85 L345.09 164.86 L346.85 164.88 L348.6 164.9 L350.35 164.92 L352.11 164.96 L353.86 165.01 L355.61 165.07 L357.37 165.15 L359.12 165.26 L360.87 165.4 L362.63 165.59 L364.38 165.83 L366.13 166.16 L367.89 166.58 L369.64 167.13 L371.39 167.85 L373.15 168.78 L374.9 169.97 L376.65 171.47 L378.41 173.37 L380.16 175.71 L381.91 178.56 L383.66 181.95 L385.42 185.87 L387.17 190.27 L388.92 195.05 L390.68 200.06 L392.43 205.1 L394.18 209.99 L395.94 214.55 L397.69 218.66 L399.44 222.25 L401.2 225.29 L402.95 227.82 L404.7 229.88 L406.46 231.52 L408.21 232.82 L409.96 233.84 L411.72 234.63 L413.47 235.24 L415.22 235.71 L416.97 236.07 L418.73 236.34 L420.48 236.55 L422.23 236.71 L423.99 236.83 L425.74 236.92 L427.49 236.99 L429.25 237.04 L431 237.08" fill="none" stroke="#24507e" stroke-width="1.3" stroke-linejoin="round" stroke-linecap="round" />
<line x1="296.9" y1="164" x2="296.9" y2="169" stroke="#eba3a6" stroke-width="0.8" />
<line x1="295.3" y1="164" x2="298.5" y2="164" stroke="#eba3a6" stroke-width="0.8" />
<line x1="295.3" y1="169" x2="298.5" y2="169" stroke="#eba3a6" stroke-width="0.8" />
<line x1="310.8" y1="164" x2="310.8" y2="170.5" stroke="#eba3a6" stroke-width="0.8" />
<line x1="309.2" y1="164" x2="312.4" y2="164" stroke="#eba3a6" stroke-width="0.8" />
<line x1="309.2" y1="170.5" x2="312.4" y2="170.5" stroke="#eba3a6" stroke-width="0.8" />
<line x1="324.6" y1="173" x2="324.6" y2="184" stroke="#eba3a6" stroke-width="0.8" />
<line x1="323" y1="173" x2="326.2" y2="173" stroke="#eba3a6" stroke-width="0.8" />
<line x1="323" y1="184" x2="326.2" y2="184" stroke="#eba3a6" stroke-width="0.8" />
<rect x="295.3" y="164.2" width="3.2" height="3.2" fill="#eba3a6" opacity="1"/>
<rect x="309.2" y="165" width="3.2" height="3.2" fill="#eba3a6" opacity="1"/>
<rect x="323" y="177.8" width="3.2" height="3.2" fill="#eba3a6" opacity="1"/>
<rect x="337" y="219.9" width="3.2" height="3.2" fill="#eba3a6" opacity="1"/>
<rect x="350.7" y="235.2" width="3.2" height="3.2" fill="#eba3a6" opacity="1"/>
<rect x="364.5" y="235.4" width="3.2" height="3.2" fill="#eba3a6" opacity="1"/>
<rect x="378.4" y="235.4" width="3.2" height="3.2" fill="#eba3a6" opacity="1"/>
<rect x="392.4" y="235.4" width="3.2" height="3.2" fill="#eba3a6" opacity="1"/>
<rect x="406.4" y="235.4" width="3.2" height="3.2" fill="#eba3a6" opacity="1"/>
<line x1="320" y1="161" x2="320" y2="169" stroke="#7f98bb" stroke-width="0.8" />
<line x1="318.4" y1="161" x2="321.6" y2="161" stroke="#7f98bb" stroke-width="0.8" />
<line x1="318.4" y1="169" x2="321.6" y2="169" stroke="#7f98bb" stroke-width="0.8" />
<line x1="333.8" y1="162" x2="333.8" y2="170" stroke="#7f98bb" stroke-width="0.8" />
<line x1="332.2" y1="162" x2="335.4" y2="162" stroke="#7f98bb" stroke-width="0.8" />
<line x1="332.2" y1="170" x2="335.4" y2="170" stroke="#7f98bb" stroke-width="0.8" />
<circle cx="320" cy="165" r="1.7" fill="#8ea3c0" opacity="1"/>
<circle cx="333.8" cy="167" r="1.7" fill="#8ea3c0" opacity="1"/>
<circle cx="347.7" cy="184.3" r="1.7" fill="#8ea3c0" opacity="1"/>
<circle cx="361.3" cy="224.3" r="1.7" fill="#8ea3c0" opacity="1"/>
<circle cx="375.3" cy="237" r="1.7" fill="#8ea3c0" opacity="1"/>
<circle cx="389.3" cy="237" r="1.7" fill="#8ea3c0" opacity="1"/>
<circle cx="403.5" cy="237" r="1.7" fill="#8ea3c0" opacity="1"/>
<circle cx="417.5" cy="237" r="1.7" fill="#8ea3c0" opacity="1"/>
<circle cx="431" cy="237" r="1.7" fill="#8ea3c0" opacity="1"/>
<rect x="323.4" y="163.4" width="3.2" height="3.2" fill="#c8163c" opacity="1"/>
<rect x="336.9" y="166.1" width="3.2" height="3.2" fill="#c8163c" opacity="1"/>
<rect x="350.7" y="178.1" width="3.2" height="3.2" fill="#c8163c" opacity="1"/>
<rect x="364.9" y="215.7" width="3.2" height="3.2" fill="#c8163c" opacity="1"/>
<rect x="378.6" y="234.8" width="3.2" height="3.2" fill="#c8163c" opacity="1"/>
<line x1="333.8" y1="160" x2="333.8" y2="168" stroke="#24507e" stroke-width="0.8" />
<line x1="332.2" y1="160" x2="335.4" y2="160" stroke="#24507e" stroke-width="0.8" />
<line x1="332.2" y1="168" x2="335.4" y2="168" stroke="#24507e" stroke-width="0.8" />
<line x1="347.7" y1="161" x2="347.7" y2="168" stroke="#24507e" stroke-width="0.8" />
<line x1="346.1" y1="161" x2="349.3" y2="161" stroke="#24507e" stroke-width="0.8" />
<line x1="346.1" y1="168" x2="349.3" y2="168" stroke="#24507e" stroke-width="0.8" />
<line x1="375.5" y1="170.5" x2="375.5" y2="177" stroke="#24507e" stroke-width="0.8" />
<line x1="373.9" y1="170.5" x2="377.1" y2="170.5" stroke="#24507e" stroke-width="0.8" />
<line x1="373.9" y1="177" x2="377.1" y2="177" stroke="#24507e" stroke-width="0.8" />
<circle cx="333.8" cy="163.8" r="1.7" fill="#24507e" opacity="1"/>
<circle cx="347.7" cy="164.5" r="1.7" fill="#24507e" opacity="1"/>
<circle cx="361.6" cy="164.8" r="1.7" fill="#24507e" opacity="1"/>
<circle cx="375.5" cy="173.8" r="1.7" fill="#24507e" opacity="1"/>
<circle cx="389.6" cy="194.3" r="1.7" fill="#24507e" opacity="1"/>
<circle cx="403.8" cy="234" r="1.7" fill="#24507e" opacity="1"/>
<text x="392.1" y="145" font-size="7" fill="#2e2e2e" stroke="#2e2e2e" stroke-width="0.2" textLength="61.2" lengthAdjust="spacingAndGlyphs" >Parental RS4;11 cells:</text>
<line x1="392" y1="151.1" x2="405.6" y2="151.1" stroke="#eba3a6" stroke-width="0.8" stroke-dasharray="1.6 1.3"/>
<rect x="397.2" y="149.5" width="3.2" height="3.2" fill="#eba3a6" opacity="1"/>
<text x="407.8" y="153.3" font-size="7" fill="#2e2e2e" stroke="#2e2e2e" stroke-width="0.2" textLength="105.5" lengthAdjust="spacingAndGlyphs" >Sonrotoclax (IC<tspan font-size="4.3" dy="1.3">50</tspan><tspan dy="-1.3"> = 0.56 ± 0.061 nM)</tspan></text>
<line x1="392" y1="159.2" x2="405.6" y2="159.2" stroke="#98a8c2" stroke-width="0.8" stroke-dasharray="1.6 1.3"/>
<circle cx="398.8" cy="159.2" r="1.7" fill="#8ea3c0" opacity="1"/>
<text x="407.8" y="161.4" font-size="7" fill="#2e2e2e" stroke="#2e2e2e" stroke-width="0.2" textLength="96.6" lengthAdjust="spacingAndGlyphs" >Venetoclax (IC<tspan font-size="4.3" dy="1.3">50</tspan><tspan dy="-1.3"> = 4.5 ± 0.25 nM)</tspan></text>
<text x="392.1" y="170.3" font-size="7" fill="#2e2e2e" stroke="#2e2e2e" stroke-width="0.2" textLength="61.9" lengthAdjust="spacingAndGlyphs" >BCL-2 G101V KI cells:</text>
<line x1="391.3" y1="177.5" x2="405.6" y2="177.5" stroke="#c8163c" stroke-width="1.3" />
<rect x="397" y="175.7" width="3.6" height="3.6" fill="#c8163c" opacity="1"/>
<text x="407.8" y="179.7" font-size="7" fill="#2e2e2e" stroke="#2e2e2e" stroke-width="0.2" textLength="95.5" lengthAdjust="spacingAndGlyphs" >Sonrotoclax (IC<tspan font-size="4.3" dy="1.3">50</tspan><tspan dy="-1.3"> = 7.7 ± 1.5 nM)</tspan></text>
<line x1="391.3" y1="186.4" x2="405.6" y2="186.4" stroke="#24507e" stroke-width="1.3" />
<circle cx="398.8" cy="186.4" r="1.9" fill="#24507e" opacity="1"/>
<text x="407.8" y="188.6" font-size="7" fill="#2e2e2e" stroke="#2e2e2e" stroke-width="0.2" textLength="92" lengthAdjust="spacingAndGlyphs" >Venetoclax (IC<tspan font-size="4.3" dy="1.3">50</tspan><tspan dy="-1.3"> = 170 ± 29 nM)</tspan></text>
<text x="102.9" y="310.1" font-size="9" fill="#2e2e2e" stroke="#2e2e2e" stroke-width="0.2" textLength="54.8" lengthAdjust="spacingAndGlyphs" >RS4;11 G101V</text>
<line x1="57.7" y1="315.2" x2="57.7" y2="420.8" stroke="#262626" stroke-width="1.2" />
<line x1="54.7" y1="316.7" x2="57.7" y2="316.7" stroke="#262626" stroke-width="1.2" />
<text x="52.2" y="319" font-size="6.4" fill="#424242" stroke="#424242" stroke-width="0.2" text-anchor="end" >1500</text>
<line x1="54.7" y1="351" x2="57.7" y2="351" stroke="#262626" stroke-width="1.2" />
<text x="52.2" y="353.3" font-size="6.4" fill="#424242" stroke="#424242" stroke-width="0.2" text-anchor="end" >1000</text>
<line x1="54.7" y1="386.2" x2="57.7" y2="386.2" stroke="#262626" stroke-width="1.2" />
<text x="52.2" y="388.5" font-size="6.4" fill="#424242" stroke="#424242" stroke-width="0.2" text-anchor="end" >500</text>
<line x1="54.7" y1="420.7" x2="57.7" y2="420.7" stroke="#262626" stroke-width="1.2" />
<text x="52.2" y="423" font-size="6.4" fill="#424242" stroke="#424242" stroke-width="0.2" text-anchor="end" >0</text>
<line x1="202" y1="313.5" x2="202" y2="420.8" stroke="#262626" stroke-width="1.2" />
<line x1="202" y1="316.5" x2="205" y2="316.5" stroke="#262626" stroke-width="1.2" />
<text x="207.8" y="318.8" font-size="6.4" fill="#424242" stroke="#424242" stroke-width="0.2" >50</text>
<line x1="202" y1="358.2" x2="205" y2="358.2" stroke="#262626" stroke-width="1.2" />
<text x="207.8" y="360.5" font-size="6.4" fill="#424242" stroke="#424242" stroke-width="0.2" >30</text>
<line x1="202" y1="400" x2="205" y2="400" stroke="#262626" stroke-width="1.2" />
<text x="207.8" y="402.3" font-size="6.4" fill="#424242" stroke="#424242" stroke-width="0.2" >10</text>
<line x1="202" y1="420.8" x2="205" y2="420.8" stroke="#262626" stroke-width="1.2" />
<text x="207.8" y="423.1" font-size="6.4" fill="#424242" stroke="#424242" stroke-width="0.2" >0</text>
<line x1="57.7" y1="420.8" x2="202" y2="420.8" stroke="#262626" stroke-width="1.2" />
<text x="32.4" y="367.65" font-size="8.4" fill="#353535" stroke="#353535" stroke-width="0.2" text-anchor="middle" textLength="55.5" lengthAdjust="spacingAndGlyphs" transform="rotate(-90 32.4 367.65)" >Drug concentration</text>
<text x="220.6" y="366.8" font-size="7.8" fill="#353535" stroke="#353535" stroke-width="0.2" text-anchor="middle" textLength="53" lengthAdjust="spacingAndGlyphs" transform="rotate(90 220.6 366.8)" >Cleaved caspase-3</text>
<line x1="68.1" y1="420.8" x2="68.1" y2="423.5" stroke="#262626" stroke-width="1.2" />
<text x="68.1" y="432.2" font-size="6.4" fill="#424242" stroke="#424242" stroke-width="0.2" text-anchor="middle" >0</text>
<line x1="80.7" y1="420.8" x2="80.7" y2="423.5" stroke="#262626" stroke-width="1.2" />
<text x="80.7" y="432.2" font-size="6.4" fill="#424242" stroke="#424242" stroke-width="0.2" text-anchor="middle" >4</text>
<line x1="93.4" y1="420.8" x2="93.4" y2="423.5" stroke="#262626" stroke-width="1.2" />
<text x="93.4" y="432.2" font-size="6.4" fill="#424242" stroke="#424242" stroke-width="0.2" text-anchor="middle" >8</text>
<line x1="106.2" y1="420.8" x2="106.2" y2="423.5" stroke="#262626" stroke-width="1.2" />
<text x="106.2" y="432.2" font-size="6.4" fill="#424242" stroke="#424242" stroke-width="0.2" text-anchor="middle" >16</text>
<line x1="118.7" y1="420.8" x2="118.7" y2="423.5" stroke="#262626" stroke-width="1.2" />
<text x="118.7" y="432.2" font-size="6.4" fill="#424242" stroke="#424242" stroke-width="0.2" text-anchor="middle" >24</text>
<line x1="144.5" y1="420.8" x2="144.5" y2="423.5" stroke="#262626" stroke-width="1.2" />
<text x="144.5" y="432.2" font-size="6.4" fill="#424242" stroke="#424242" stroke-width="0.2" text-anchor="middle" >0</text>
<line x1="157.4" y1="420.8" x2="157.4" y2="423.5" stroke="#262626" stroke-width="1.2" />
<text x="157.4" y="432.2" font-size="6.4" fill="#424242" stroke="#424242" stroke-width="0.2" text-anchor="middle" >4</text>
<line x1="170.2" y1="420.8" x2="170.2" y2="423.5" stroke="#262626" stroke-width="1.2" />
<text x="170.2" y="432.2" font-size="6.4" fill="#424242" stroke="#424242" stroke-width="0.2" text-anchor="middle" >8</text>
<line x1="183.1" y1="420.8" x2="183.1" y2="423.5" stroke="#262626" stroke-width="1.2" />
<text x="183.1" y="432.2" font-size="6.4" fill="#424242" stroke="#424242" stroke-width="0.2" text-anchor="middle" >16</text>
<line x1="195.6" y1="420.8" x2="195.6" y2="423.5" stroke="#262626" stroke-width="1.2" />
<text x="195.6" y="432.2" font-size="6.4" fill="#424242" stroke="#424242" stroke-width="0.2" text-anchor="middle" >24</text>
<text x="206.5" y="432.2" font-size="6.4" fill="#424242" stroke="#424242" stroke-width="0.2" >hr</text>
<line x1="68.8" y1="438.8" x2="119.6" y2="438.8" stroke="#777" stroke-width="0.9" />
<line x1="145.5" y1="438.8" x2="196.2" y2="438.8" stroke="#777" stroke-width="0.9" />
<text x="94.2" y="447.4" font-size="7.2" fill="#353535" stroke="#353535" stroke-width="0.2" text-anchor="middle" textLength="33" lengthAdjust="spacingAndGlyphs" >Sonrotoclax</text>
<text x="94.2" y="454.3" font-size="7.2" fill="#353535" stroke="#353535" stroke-width="0.2" text-anchor="middle" textLength="20" lengthAdjust="spacingAndGlyphs" >15 mpk</text>
<text x="170.7" y="447.4" font-size="7.2" fill="#353535" stroke="#353535" stroke-width="0.2" text-anchor="middle" textLength="31" lengthAdjust="spacingAndGlyphs" >Venetoclax</text>
<text x="170.7" y="454.3" font-size="7.2" fill="#353535" stroke="#353535" stroke-width="0.2" text-anchor="middle" textLength="20" lengthAdjust="spacingAndGlyphs" >15 mpk</text>
<path d="M68.1 420.8 L80.7 390.7 L93.4 413 L106.2 421 L118.7 421" fill="none" stroke="#24826a" stroke-width="1.25" stroke-linejoin="round" stroke-linecap="round" />
<path d="M144.5 420.8 L157.2 332.3 L170.2 379.7 L183.1 412.2 L195.6 420.5" fill="none" stroke="#24826a" stroke-width="1.25" stroke-linejoin="round" stroke-linecap="round" />
<line x1="80.7" y1="382.6" x2="80.7" y2="398.9" stroke="#24826a" stroke-width="0.9" />
<line x1="78.7" y1="382.6" x2="82.7" y2="382.6" stroke="#24826a" stroke-width="0.9" />
<line x1="78.7" y1="398.9" x2="82.7" y2="398.9" stroke="#24826a" stroke-width="0.9" />
<line x1="157.2" y1="320.6" x2="157.2" y2="343.4" stroke="#24826a" stroke-width="0.9" />
<line x1="155.2" y1="320.6" x2="159.2" y2="320.6" stroke="#24826a" stroke-width="0.9" />
<line x1="155.2" y1="343.4" x2="159.2" y2="343.4" stroke="#24826a" stroke-width="0.9" />
<line x1="170.2" y1="366" x2="170.2" y2="394" stroke="#24826a" stroke-width="0.9" />
<line x1="168.2" y1="366" x2="172.2" y2="366" stroke="#24826a" stroke-width="0.9" />
<line x1="168.2" y1="394" x2="172.2" y2="394" stroke="#24826a" stroke-width="0.9" />
<line x1="183.1" y1="409" x2="183.1" y2="415" stroke="#24826a" stroke-width="0.9" />
<line x1="181.5" y1="409" x2="184.7" y2="409" stroke="#24826a" stroke-width="0.9" />
<line x1="181.5" y1="415" x2="184.7" y2="415" stroke="#24826a" stroke-width="0.9" />
<circle cx="68.1" cy="420.8" r="2.4" fill="#17664c" opacity="1"/>
<circle cx="80.7" cy="390.7" r="2.4" fill="#17664c" opacity="1"/>
<circle cx="93.4" cy="413" r="2.4" fill="#17664c" opacity="1"/>
<circle cx="106.2" cy="421" r="2.4" fill="#17664c" opacity="1"/>
<circle cx="118.7" cy="421" r="2.4" fill="#17664c" opacity="1"/>
<circle cx="144.5" cy="420.8" r="2.4" fill="#17664c" opacity="1"/>
<circle cx="157.2" cy="332.3" r="2.4" fill="#17664c" opacity="1"/>
<circle cx="170.2" cy="379.7" r="2.4" fill="#17664c" opacity="1"/>
<circle cx="183.1" cy="412.2" r="2.4" fill="#17664c" opacity="1"/>
<circle cx="195.6" cy="420.5" r="2.4" fill="#17664c" opacity="1"/>
<line x1="80.75" y1="409" x2="80.75" y2="411.2" stroke="#4a5268" stroke-width="0.9" />
<line x1="78.95" y1="409" x2="82.55" y2="409" stroke="#4a5268" stroke-width="0.9" />
<rect x="75.8" y="411.2" width="9.9" height="9.6" fill="#4a5268"/>
<line x1="93.4" y1="382.9" x2="93.4" y2="391.9" stroke="#4a5268" stroke-width="0.9" />
<line x1="91.6" y1="382.9" x2="95.2" y2="382.9" stroke="#4a5268" stroke-width="0.9" />
<rect x="88.5" y="391.9" width="9.8" height="28.9" fill="#4a5268"/>
<line x1="106.15" y1="400.9" x2="106.15" y2="404.6" stroke="#4a5268" stroke-width="0.9" />
<line x1="104.35" y1="400.9" x2="107.95" y2="400.9" stroke="#4a5268" stroke-width="0.9" />
<rect x="101.3" y="404.6" width="9.7" height="16.2" fill="#4a5268"/>
<line x1="118.9" y1="410.7" x2="118.9" y2="413.1" stroke="#4a5268" stroke-width="0.9" />
<line x1="117.1" y1="410.7" x2="120.7" y2="410.7" stroke="#4a5268" stroke-width="0.9" />
<rect x="114.2" y="413.1" width="9.4" height="7.7" fill="#4a5268"/>
<rect x="152.2" y="419.4" width="10" height="1.4" fill="#9c94c8"/>
<rect x="165" y="416" width="10" height="4.8" fill="#9c94c8"/>
<rect x="178.6" y="418.2" width="9" height="2.6" fill="#9c94c8"/>
<path d="M68.1 420.8 L80.7 413.1 L93.4 412.8 L106.2 417.2 L118.7 416.4" fill="none" stroke="#f4a234" stroke-width="1.25" stroke-linejoin="round" stroke-linecap="round" />
<path d="M144.5 420.8 L157.4 412.9 L170.2 400.8 L183.1 405 L195.6 413.7" fill="none" stroke="#f4a234" stroke-width="1.25" stroke-linejoin="round" stroke-linecap="round" />
<line x1="80.7" y1="409.4" x2="80.7" y2="413.1" stroke="#f4a234" stroke-width="0.8" />
<line x1="79.1" y1="409.4" x2="82.3" y2="409.4" stroke="#f4a234" stroke-width="0.8" />
<line x1="79.1" y1="413.1" x2="82.3" y2="413.1" stroke="#f4a234" stroke-width="0.8" />
<line x1="93.4" y1="409" x2="93.4" y2="416" stroke="#f4a234" stroke-width="0.8" />
<line x1="91.8" y1="409" x2="95" y2="409" stroke="#f4a234" stroke-width="0.8" />
<line x1="91.8" y1="416" x2="95" y2="416" stroke="#f4a234" stroke-width="0.8" />
<line x1="170.2" y1="397.5" x2="170.2" y2="404" stroke="#f4a234" stroke-width="0.8" />
<line x1="168.6" y1="397.5" x2="171.8" y2="397.5" stroke="#f4a234" stroke-width="0.8" />
<line x1="168.6" y1="404" x2="171.8" y2="404" stroke="#f4a234" stroke-width="0.8" />
<line x1="183.1" y1="402" x2="183.1" y2="408" stroke="#f4a234" stroke-width="0.8" />
<line x1="181.5" y1="402" x2="184.7" y2="402" stroke="#f4a234" stroke-width="0.8" />
<line x1="181.5" y1="408" x2="184.7" y2="408" stroke="#f4a234" stroke-width="0.8" />
<circle cx="68.1" cy="420.8" r="2.4" fill="#f4a234" opacity="1"/>
<circle cx="80.7" cy="413.1" r="2.4" fill="#f4a234" opacity="1"/>
<circle cx="93.4" cy="412.8" r="2.4" fill="#f4a234" opacity="1"/>
<circle cx="106.2" cy="417.2" r="2.4" fill="#f4a234" opacity="1"/>
<circle cx="118.7" cy="416.4" r="2.4" fill="#f4a234" opacity="1"/>
<circle cx="144.5" cy="420.8" r="2.4" fill="#f4a234" opacity="1"/>
<circle cx="157.4" cy="412.9" r="2.4" fill="#f4a234" opacity="1"/>
<circle cx="170.2" cy="400.8" r="2.4" fill="#f4a234" opacity="1"/>
<circle cx="183.1" cy="405" r="2.4" fill="#f4a234" opacity="1"/>
<circle cx="195.6" cy="413.7" r="2.4" fill="#f4a234" opacity="1"/>
<line x1="57.7" y1="420.8" x2="202" y2="420.8" stroke="#262626" stroke-width="1.2" />
<line x1="61.5" y1="322.8" x2="76.2" y2="322.8" stroke="#72aaa4" stroke-width="1.4" />
<circle cx="68.9" cy="322.8" r="2.8" fill="#17664c" opacity="1"/>
<text x="79.3" y="325" font-size="7" fill="#2e2e2e" stroke="#2e2e2e" stroke-width="0.2" textLength="62.4" lengthAdjust="spacingAndGlyphs" >Plasma Conc. (ng/mL)</text>
<line x1="61.5" y1="332.2" x2="76.2" y2="332.2" stroke="#f4be78" stroke-width="1.4" />
<circle cx="68.9" cy="332.2" r="2.8" fill="#f4a234" opacity="1"/>
<text x="79.3" y="334.3" font-size="7" fill="#2e2e2e" stroke="#2e2e2e" stroke-width="0.2" textLength="56.1" lengthAdjust="spacingAndGlyphs" >Tumor Conc. (ng/g)</text>
<rect x="65" y="339.5" width="8.5" height="2.6" fill="#4a5268"/>
<text x="79.3" y="342.9" font-size="7" fill="#2e2e2e" stroke="#2e2e2e" stroke-width="0.2" textLength="23.3" lengthAdjust="spacingAndGlyphs" >Cleaved</text>
<rect x="65" y="347.9" width="8.5" height="2.6" fill="#9c94c8"/>
<text x="79.3" y="351.3" font-size="7" fill="#2e2e2e" stroke="#2e2e2e" stroke-width="0.2" textLength="54" lengthAdjust="spacingAndGlyphs" >Caspase-3 (ng/mg)</text>
<text x="346.6" y="306.5" font-size="9" fill="#2e2e2e" stroke="#2e2e2e" stroke-width="0.2" textLength="53.8" lengthAdjust="spacingAndGlyphs" >RS4;11 G101V</text>
<line x1="292.8" y1="311.2" x2="292.8" y2="421" stroke="#262626" stroke-width="1.2" />
<line x1="289.8" y1="313.5" x2="292.8" y2="313.5" stroke="#262626" stroke-width="1.2" />
<text x="287" y="315.8" font-size="6.4" fill="#424242" stroke="#424242" stroke-width="0.2" text-anchor="end" >3000</text>
<line x1="289.8" y1="349.3" x2="292.8" y2="349.3" stroke="#262626" stroke-width="1.2" />
<text x="287" y="351.6" font-size="6.4" fill="#424242" stroke="#424242" stroke-width="0.2" text-anchor="end" >2000</text>
<line x1="289.8" y1="385" x2="292.8" y2="385" stroke="#262626" stroke-width="1.2" />
<text x="287" y="387.3" font-size="6.4" fill="#424242" stroke="#424242" stroke-width="0.2" text-anchor="end" >1000</text>
<line x1="289.8" y1="420.6" x2="292.8" y2="420.6" stroke="#262626" stroke-width="1.2" />
<text x="287" y="422.9" font-size="6.4" fill="#424242" stroke="#424242" stroke-width="0.2" text-anchor="end" >0</text>
<line x1="292.8" y1="421" x2="449" y2="421" stroke="#262626" stroke-width="1.2" />
<line x1="292.8" y1="421" x2="292.8" y2="424" stroke="#262626" stroke-width="1.2" />
<text x="292.8" y="433" font-size="6.4" fill="#424242" stroke="#424242" stroke-width="0.2" text-anchor="middle" >0</text>
<line x1="357.3" y1="421" x2="357.3" y2="424" stroke="#262626" stroke-width="1.2" />
<text x="357.3" y="433" font-size="6.4" fill="#424242" stroke="#424242" stroke-width="0.2" text-anchor="middle" >20</text>
<line x1="421.7" y1="421" x2="421.7" y2="424" stroke="#262626" stroke-width="1.2" />
<text x="421.7" y="433" font-size="6.4" fill="#424242" stroke="#424242" stroke-width="0.2" text-anchor="middle" >40</text>
<text x="268" y="363.4" font-size="8.4" fill="#353535" stroke="#353535" stroke-width="0.2" text-anchor="middle" textLength="64.8" lengthAdjust="spacingAndGlyphs" transform="rotate(-90 268 363.4)" >Tumor volume (mm<tspan font-size="5.4" dy="-2.6">3</tspan><tspan dy="2.6">)</tspan></text>
<text x="344.2" y="444.3" font-size="8.4" fill="#353535" stroke="#353535" stroke-width="0.2" textLength="59.6" lengthAdjust="spacingAndGlyphs" >Days after treatment</text>
<path d="M292.8 411.3 L305.6 412.6 L315.4 414.4 L328 416.1 L337.9 416.8 L351.1 417 L360.6 417.1 L373.5 417.1 L383.1 417.1 L395.8 417.1 L405.8 417.1 L418.7 417.1 L427.9 417.1 L441.3 417.1" fill="none" stroke="#c4103c" stroke-width="1.2" stroke-linejoin="round" stroke-linecap="round" />
<rect x="290.8" y="409.3" width="4" height="4" fill="#c4103c" opacity="1"/>
<rect x="303.6" y="410.6" width="4" height="4" fill="#c4103c" opacity="1"/>
<rect x="313.4" y="412.4" width="4" height="4" fill="#c4103c" opacity="1"/>
<rect x="326" y="414.1" width="4" height="4" fill="#c4103c" opacity="1"/>
<rect x="335.9" y="414.8" width="4" height="4" fill="#c4103c" opacity="1"/>
<rect x="349.1" y="415" width="4" height="4" fill="#c4103c" opacity="1"/>
<rect x="358.6" y="415.1" width="4" height="4" fill="#c4103c" opacity="1"/>
<rect x="371.5" y="415.1" width="4" height="4" fill="#c4103c" opacity="1"/>
<rect x="381.1" y="415.1" width="4" height="4" fill="#c4103c" opacity="1"/>
<rect x="393.8" y="415.1" width="4" height="4" fill="#c4103c" opacity="1"/>
<rect x="403.8" y="415.1" width="4" height="4" fill="#c4103c" opacity="1"/>
<rect x="416.7" y="415.1" width="4" height="4" fill="#c4103c" opacity="1"/>
<rect x="425.9" y="415.1" width="4" height="4" fill="#c4103c" opacity="1"/>
<rect x="439.3" y="415.1" width="4" height="4" fill="#c4103c" opacity="1"/>
<path d="M292.8 411.3 L305.7 404.5 L315.4 396.6 L328 379.4 L337.9 357.2 L351.2 321.8" fill="none" stroke="#43b049" stroke-width="1.1" stroke-linejoin="round" stroke-linecap="round" />
<path d="M292.8 411.3 L305.7 408.8 L315.4 404.6 L328 396.6 L337.9 389.8 L351.2 374.3" fill="none" stroke="#eaa49a" stroke-width="1.1" stroke-linejoin="round" stroke-linecap="round" />
<line x1="328" y1="376" x2="328" y2="383" stroke="#3a9a40" stroke-width="0.9" />
<line x1="326.4" y1="376" x2="329.6" y2="376" stroke="#3a9a40" stroke-width="0.9" />
<line x1="326.4" y1="383" x2="329.6" y2="383" stroke="#3a9a40" stroke-width="0.9" />
<line x1="337.9" y1="352" x2="337.9" y2="362" stroke="#3a9a40" stroke-width="0.9" />
<line x1="336.3" y1="352" x2="339.5" y2="352" stroke="#3a9a40" stroke-width="0.9" />
<line x1="336.3" y1="362" x2="339.5" y2="362" stroke="#3a9a40" stroke-width="0.9" />
<line x1="351.2" y1="316" x2="351.2" y2="328.4" stroke="#3a9a40" stroke-width="0.9" />
<line x1="349.6" y1="316" x2="352.8" y2="316" stroke="#3a9a40" stroke-width="0.9" />
<line x1="349.6" y1="328.4" x2="352.8" y2="328.4" stroke="#3a9a40" stroke-width="0.9" />
<circle cx="292.8" cy="411.3" r="2.2" fill="#43b049" opacity="1"/>
<circle cx="305.7" cy="404.5" r="2.2" fill="#43b049" opacity="1"/>
<circle cx="315.4" cy="396.6" r="2.2" fill="#43b049" opacity="1"/>
<circle cx="328" cy="379.4" r="2.2" fill="#43b049" opacity="1"/>
<circle cx="337.9" cy="357.2" r="2.2" fill="#43b049" opacity="1"/>
<circle cx="351.2" cy="321.8" r="2.2" fill="#43b049" opacity="1"/>
<rect x="291" y="409.5" width="3.6" height="3.6" fill="#eaa49a" opacity="1"/>
<rect x="303.9" y="407" width="3.6" height="3.6" fill="#eaa49a" opacity="1"/>
<rect x="313.6" y="402.8" width="3.6" height="3.6" fill="#eaa49a" opacity="1"/>
<rect x="326.2" y="394.8" width="3.6" height="3.6" fill="#eaa49a" opacity="1"/>
<rect x="336.1" y="388" width="3.6" height="3.6" fill="#eaa49a" opacity="1"/>
<rect x="349.4" y="372.5" width="3.6" height="3.6" fill="#eaa49a" opacity="1"/>
<line x1="351.2" y1="368.6" x2="351.2" y2="377" stroke="#c9a0b0" stroke-width="0.9" />
<line x1="349.6" y1="368.6" x2="352.8" y2="368.6" stroke="#c9a0b0" stroke-width="0.9" />
<line x1="349.6" y1="377" x2="352.8" y2="377" stroke="#c9a0b0" stroke-width="0.9" />
<line x1="351.2" y1="371" x2="351.2" y2="382" stroke="#26326a" stroke-width="1.0" />
<line x1="349.6" y1="371" x2="352.8" y2="371" stroke="#26326a" stroke-width="1.0" />
<line x1="349.6" y1="382" x2="352.8" y2="382" stroke="#26326a" stroke-width="1.0" />
<line x1="337.9" y1="386.5" x2="337.9" y2="395.5" stroke="#26326a" stroke-width="0.9" />
<line x1="336.3" y1="386.5" x2="339.5" y2="386.5" stroke="#26326a" stroke-width="0.9" />
<line x1="336.3" y1="395.5" x2="339.5" y2="395.5" stroke="#26326a" stroke-width="0.9" />
<path d="M292.8 411.3 L305.7 409.4 L315.4 405.2 L328 397.9 L337.9 390.9 L351.2 376.5" fill="none" stroke="#26326a" stroke-width="1.4" stroke-linejoin="round" stroke-linecap="round" />
<path d="M292.8 408.55 L295.43 413.3 L290.18 413.3 Z" fill="#26326a"/>
<path d="M305.7 406.65 L308.32 411.4 L303.07 411.4 Z" fill="#26326a"/>
<path d="M315.4 402.45 L318.02 407.2 L312.77 407.2 Z" fill="#26326a"/>
<path d="M328 395.15 L330.62 399.9 L325.38 399.9 Z" fill="#26326a"/>
<path d="M337.9 388.15 L340.52 392.9 L335.27 392.9 Z" fill="#26326a"/>
<path d="M351.2 373.75 L353.82 378.5 L348.57 378.5 Z" fill="#26326a"/>
<text x="431.4" y="328" font-size="7" fill="#2e2e2e" stroke="#2e2e2e" stroke-width="0.2" textLength="51.6" lengthAdjust="spacingAndGlyphs" >TGI (%) on Day 18</text>
<line x1="373.8" y1="334.1" x2="385.2" y2="334.1" stroke="#3a9a40" stroke-width="1.0" />
<circle cx="379.5" cy="334.1" r="2" fill="#43b049" opacity="1"/>
<text x="389.8" y="336.1" font-size="7" fill="#2e2e2e" stroke="#2e2e2e" stroke-width="0.2" textLength="20.4" lengthAdjust="spacingAndGlyphs" >Vehicle</text>
<line x1="373.8" y1="346.4" x2="385.2" y2="346.4" stroke="#eaa49a" stroke-width="1.0" />
<rect x="377.4" y="344.3" width="4.2" height="4.2" fill="#eaa49a" opacity="1"/>
<text x="389.8" y="348.5" font-size="7" fill="#2e2e2e" stroke="#2e2e2e" stroke-width="0.2" textLength="57" lengthAdjust="spacingAndGlyphs" >Sonrotoclax 15 mpk</text>
<line x1="373.8" y1="359.1" x2="385.2" y2="359.1" stroke="#a01838" stroke-width="1.0" />
<rect x="377.3" y="356.9" width="4.4" height="4.4" fill="#c4103c" opacity="1"/>
<text x="389.8" y="361" font-size="7" fill="#2e2e2e" stroke="#2e2e2e" stroke-width="0.2" textLength="57" lengthAdjust="spacingAndGlyphs" >Sonrotoclax 50 mpk</text>
<line x1="373.8" y1="371.9" x2="385.2" y2="371.9" stroke="#3a4a80" stroke-width="1.0" />
<path d="M379.5 369.48 L381.81 373.66 L377.19 373.66 Z" fill="#26326a"/>
<text x="389.8" y="374" font-size="7" fill="#2e2e2e" stroke="#2e2e2e" stroke-width="0.2" textLength="53.9" lengthAdjust="spacingAndGlyphs" >Venetoclax 50 mpk</text>
<text x="453.8" y="349" font-size="7.2" fill="#e79aa5" stroke="#e79aa5" stroke-width="0.2" textLength="7.5" lengthAdjust="spacingAndGlyphs" >59</text>
<text x="451.5" y="360" font-size="7.2" fill="#c8234a" stroke="#c8234a" stroke-width="0.2" textLength="10.4" lengthAdjust="spacingAndGlyphs" >106</text>
<text x="455" y="373.6" font-size="7.2" fill="#3f6a9a" stroke="#3f6a9a" stroke-width="0.2" textLength="6.3" lengthAdjust="spacingAndGlyphs" >61</text>
<line x1="465.4" y1="356.3" x2="465.4" y2="371.7" stroke="#2e2e2e" stroke-width="0.9" />
<line x1="463" y1="356.3" x2="465.4" y2="356.3" stroke="#2e2e2e" stroke-width="0.9" />
<line x1="463" y1="371.7" x2="465.4" y2="371.7" stroke="#2e2e2e" stroke-width="0.9" />
<text x="468.3" y="366.6" font-size="7.6" fill="#2e2e2e" stroke="#2e2e2e" stroke-width="0.2" textLength="11.5" lengthAdjust="spacingAndGlyphs" >****</text>
</svg></body></html>
